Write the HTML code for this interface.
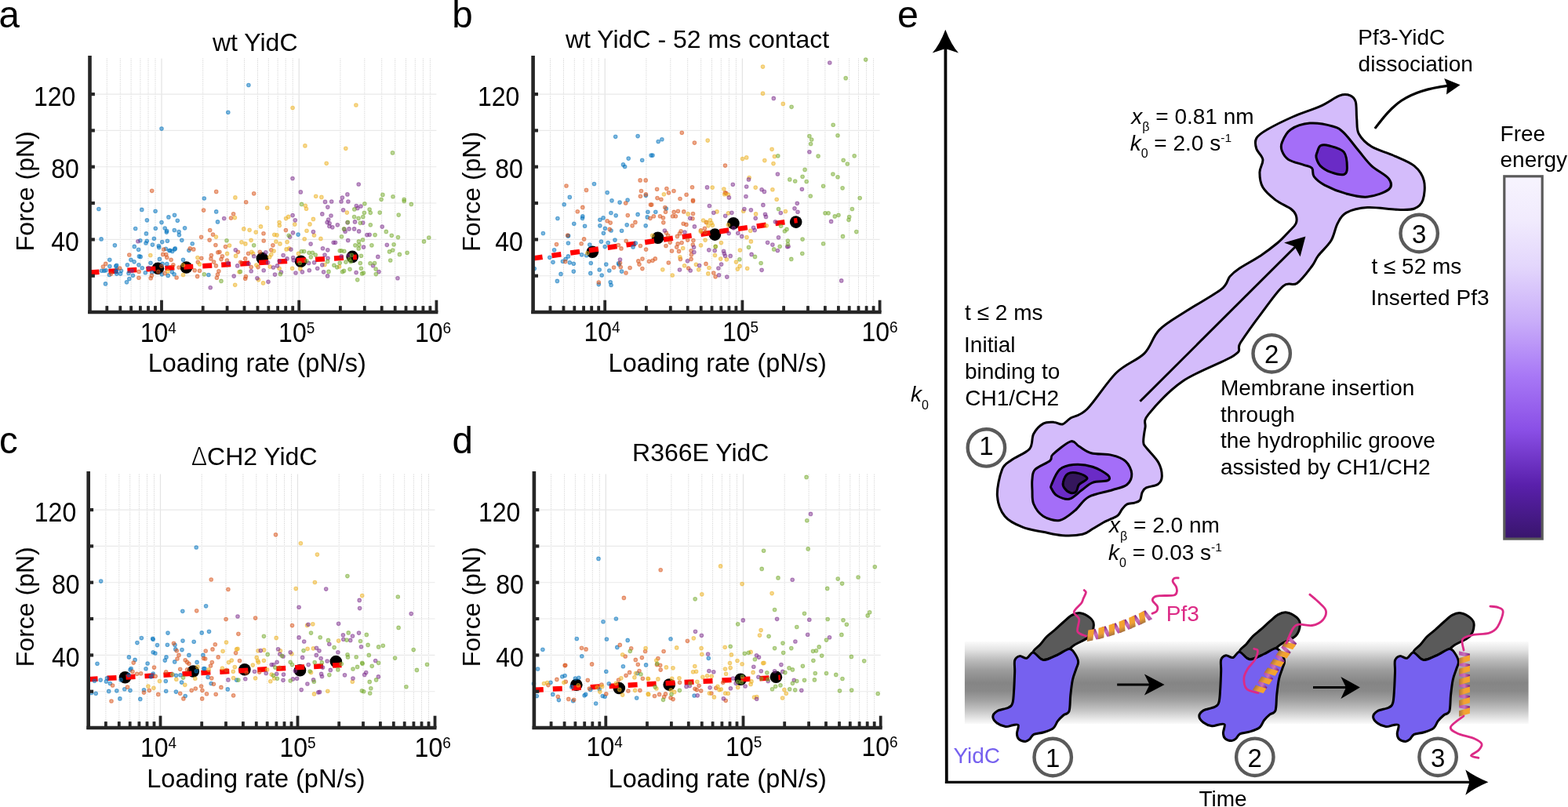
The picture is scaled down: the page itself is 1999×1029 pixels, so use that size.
<!DOCTYPE html>
<html><head><meta charset="utf-8"><style>html,body{margin:0;padding:0;background:#fff;overflow:hidden}svg{display:block}</style></head>
<body><svg width="1999" height="1029" viewBox="0 0 1999 1029">
<rect width="1999" height="1029" fill="#fff"/>
<line x1="136.3" y1="74.6" x2="136.3" y2="398.0" stroke="#cdcdcd" stroke-width="1" stroke-dasharray="1,1.4"/>
<line x1="153.3" y1="74.6" x2="153.3" y2="398.0" stroke="#cdcdcd" stroke-width="1" stroke-dasharray="1,1.4"/>
<line x1="167.1" y1="74.6" x2="167.1" y2="398.0" stroke="#cdcdcd" stroke-width="1" stroke-dasharray="1,1.4"/>
<line x1="178.9" y1="74.6" x2="178.9" y2="398.0" stroke="#cdcdcd" stroke-width="1" stroke-dasharray="1,1.4"/>
<line x1="189.0" y1="74.6" x2="189.0" y2="398.0" stroke="#cdcdcd" stroke-width="1" stroke-dasharray="1,1.4"/>
<line x1="198.0" y1="74.6" x2="198.0" y2="398.0" stroke="#cdcdcd" stroke-width="1" stroke-dasharray="1,1.4"/>
<line x1="206.0" y1="74.6" x2="206.0" y2="398.0" stroke="#e3e3e3" stroke-width="1.2"/>
<line x1="258.7" y1="74.6" x2="258.7" y2="398.0" stroke="#cdcdcd" stroke-width="1" stroke-dasharray="1,1.4"/>
<line x1="289.6" y1="74.6" x2="289.6" y2="398.0" stroke="#cdcdcd" stroke-width="1" stroke-dasharray="1,1.4"/>
<line x1="311.5" y1="74.6" x2="311.5" y2="398.0" stroke="#cdcdcd" stroke-width="1" stroke-dasharray="1,1.4"/>
<line x1="328.5" y1="74.6" x2="328.5" y2="398.0" stroke="#cdcdcd" stroke-width="1" stroke-dasharray="1,1.4"/>
<line x1="342.3" y1="74.6" x2="342.3" y2="398.0" stroke="#cdcdcd" stroke-width="1" stroke-dasharray="1,1.4"/>
<line x1="354.1" y1="74.6" x2="354.1" y2="398.0" stroke="#cdcdcd" stroke-width="1" stroke-dasharray="1,1.4"/>
<line x1="364.2" y1="74.6" x2="364.2" y2="398.0" stroke="#cdcdcd" stroke-width="1" stroke-dasharray="1,1.4"/>
<line x1="373.2" y1="74.6" x2="373.2" y2="398.0" stroke="#cdcdcd" stroke-width="1" stroke-dasharray="1,1.4"/>
<line x1="381.2" y1="74.6" x2="381.2" y2="398.0" stroke="#e3e3e3" stroke-width="1.2"/>
<line x1="433.9" y1="74.6" x2="433.9" y2="398.0" stroke="#cdcdcd" stroke-width="1" stroke-dasharray="1,1.4"/>
<line x1="464.8" y1="74.6" x2="464.8" y2="398.0" stroke="#cdcdcd" stroke-width="1" stroke-dasharray="1,1.4"/>
<line x1="486.7" y1="74.6" x2="486.7" y2="398.0" stroke="#cdcdcd" stroke-width="1" stroke-dasharray="1,1.4"/>
<line x1="503.7" y1="74.6" x2="503.7" y2="398.0" stroke="#cdcdcd" stroke-width="1" stroke-dasharray="1,1.4"/>
<line x1="517.5" y1="74.6" x2="517.5" y2="398.0" stroke="#cdcdcd" stroke-width="1" stroke-dasharray="1,1.4"/>
<line x1="529.3" y1="74.6" x2="529.3" y2="398.0" stroke="#cdcdcd" stroke-width="1" stroke-dasharray="1,1.4"/>
<line x1="539.4" y1="74.6" x2="539.4" y2="398.0" stroke="#cdcdcd" stroke-width="1" stroke-dasharray="1,1.4"/>
<line x1="548.4" y1="74.6" x2="548.4" y2="398.0" stroke="#cdcdcd" stroke-width="1" stroke-dasharray="1,1.4"/>
<line x1="114.5" y1="351.7" x2="556.4" y2="351.7" stroke="#e9e9e9" stroke-width="1.1"/>
<line x1="114.5" y1="305.4" x2="556.4" y2="305.4" stroke="#e9e9e9" stroke-width="1.1"/>
<line x1="114.5" y1="259.0" x2="556.4" y2="259.0" stroke="#e9e9e9" stroke-width="1.1"/>
<line x1="114.5" y1="212.7" x2="556.4" y2="212.7" stroke="#e9e9e9" stroke-width="1.1"/>
<line x1="114.5" y1="166.4" x2="556.4" y2="166.4" stroke="#e9e9e9" stroke-width="1.1"/>
<line x1="114.5" y1="120.1" x2="556.4" y2="120.1" stroke="#e9e9e9" stroke-width="1.1"/>
<circle cx="201.4" cy="342.2" r="7.8" fill="#000"/><circle cx="237.5" cy="341.0" r="7.8" fill="#000"/><circle cx="334.4" cy="329.4" r="7.8" fill="#000"/><circle cx="383.5" cy="333.2" r="7.8" fill="#000"/><circle cx="449.2" cy="327.4" r="7.8" fill="#000"/>
<line x1="114.5" y1="347.5" x2="454.8" y2="327.8" stroke="#ff0000" stroke-width="6.5" stroke-dasharray="12,12"/>
<g fill="#0072BD" fill-opacity="0.5" stroke="#0072BD" stroke-opacity="0.55" stroke-width="1.05"><circle cx="125.9" cy="266.5" r="2.3"/><circle cx="180.8" cy="267.4" r="2.3"/><circle cx="198.1" cy="269.2" r="2.3"/><circle cx="214.9" cy="276.9" r="2.3"/><circle cx="222.5" cy="274.3" r="2.3"/><circle cx="226.3" cy="281.3" r="2.3"/><circle cx="187.4" cy="280.8" r="2.3"/><circle cx="206.0" cy="283.6" r="2.3"/><circle cx="172.7" cy="291.5" r="2.3"/><circle cx="198.3" cy="291.2" r="2.3"/><circle cx="210.2" cy="291.0" r="2.3"/><circle cx="212.7" cy="294.5" r="2.3"/><circle cx="212.3" cy="296.1" r="2.3"/><circle cx="222.3" cy="293.5" r="2.3"/><circle cx="228.1" cy="295.6" r="2.3"/><circle cx="228.4" cy="299.6" r="2.3"/><circle cx="235.6" cy="290.8" r="2.3"/><circle cx="186.4" cy="297.9" r="2.3"/><circle cx="129.1" cy="304.9" r="2.3"/><circle cx="178.8" cy="306.7" r="2.3"/><circle cx="187.3" cy="307.2" r="2.3"/><circle cx="186.0" cy="310.0" r="2.3"/><circle cx="196.4" cy="304.2" r="2.3"/><circle cx="206.7" cy="308.6" r="2.3"/><circle cx="213.4" cy="307.2" r="2.3"/><circle cx="231.8" cy="306.3" r="2.3"/><circle cx="245.2" cy="310.7" r="2.3"/><circle cx="146.4" cy="312.8" r="2.3"/><circle cx="194.4" cy="312.1" r="2.3"/><circle cx="202.3" cy="313.5" r="2.3"/><circle cx="202.7" cy="315.6" r="2.3"/><circle cx="171.3" cy="314.4" r="2.3"/><circle cx="176.6" cy="318.3" r="2.3"/><circle cx="211.4" cy="317.2" r="2.3"/><circle cx="215.8" cy="319.5" r="2.3"/><circle cx="219.7" cy="320.4" r="2.3"/><circle cx="217.0" cy="319.3" r="2.3"/><circle cx="223.3" cy="316.9" r="2.3"/><circle cx="222.6" cy="317.9" r="2.3"/><circle cx="240.9" cy="319.3" r="2.3"/><circle cx="177.4" cy="326.9" r="2.3"/><circle cx="179.2" cy="327.4" r="2.3"/><circle cx="203.4" cy="330.4" r="2.3"/><circle cx="139.8" cy="331.3" r="2.3"/><circle cx="166.9" cy="331.3" r="2.3"/><circle cx="171.1" cy="333.8" r="2.3"/><circle cx="233.5" cy="331.3" r="2.3"/><circle cx="162.4" cy="337.8" r="2.3"/><circle cx="176.9" cy="337.8" r="2.3"/><circle cx="192.0" cy="335.2" r="2.3"/><circle cx="139.9" cy="339.6" r="2.3"/><circle cx="147.7" cy="339.2" r="2.3"/><circle cx="148.7" cy="338.2" r="2.3"/><circle cx="181.3" cy="341.7" r="2.3"/><circle cx="207.1" cy="336.4" r="2.3"/><circle cx="212.8" cy="336.6" r="2.3"/><circle cx="129.6" cy="345.2" r="2.3"/><circle cx="132.8" cy="345.2" r="2.3"/><circle cx="135.0" cy="344.7" r="2.3"/><circle cx="149.1" cy="343.1" r="2.3"/><circle cx="148.0" cy="346.1" r="2.3"/><circle cx="154.5" cy="345.2" r="2.3"/><circle cx="164.0" cy="348.4" r="2.3"/><circle cx="169.4" cy="351.2" r="2.3"/><circle cx="139.4" cy="350.5" r="2.3"/><circle cx="148.7" cy="349.1" r="2.3"/><circle cx="153.6" cy="349.1" r="2.3"/><circle cx="185.3" cy="347.7" r="2.3"/><circle cx="193.7" cy="347.3" r="2.3"/><circle cx="206.4" cy="349.8" r="2.3"/><circle cx="214.2" cy="351.4" r="2.3"/><circle cx="219.3" cy="346.8" r="2.3"/><circle cx="222.1" cy="349.8" r="2.3"/><circle cx="164.8" cy="355.6" r="2.3"/><circle cx="161.5" cy="359.8" r="2.3"/><circle cx="134.5" cy="361.9" r="2.3"/><circle cx="260.3" cy="253.0" r="2.3"/><circle cx="275.7" cy="269.9" r="2.3"/><circle cx="277.5" cy="282.9" r="2.3"/><circle cx="380.1" cy="299.1" r="2.3"/><circle cx="265.9" cy="350.5" r="2.3"/><circle cx="206.0" cy="164.1" r="2.3"/><circle cx="290.8" cy="143.2" r="2.3"/><circle cx="316.9" cy="108.5" r="2.3"/></g>
<g fill="#D95319" fill-opacity="0.5" stroke="#D95319" stroke-opacity="0.55" stroke-width="1.05"><circle cx="193.7" cy="243.3" r="2.3"/><circle cx="259.6" cy="268.1" r="2.3"/><circle cx="256.6" cy="302.3" r="2.3"/><circle cx="164.8" cy="325.0" r="2.3"/><circle cx="208.8" cy="318.1" r="2.3"/><circle cx="207.8" cy="324.4" r="2.3"/><circle cx="211.8" cy="324.6" r="2.3"/><circle cx="212.8" cy="328.3" r="2.3"/><circle cx="218.1" cy="331.3" r="2.3"/><circle cx="242.3" cy="316.9" r="2.3"/><circle cx="246.8" cy="317.9" r="2.3"/><circle cx="134.7" cy="336.4" r="2.3"/><circle cx="131.4" cy="340.1" r="2.3"/><circle cx="152.7" cy="342.0" r="2.3"/><circle cx="141.7" cy="349.1" r="2.3"/><circle cx="177.1" cy="346.4" r="2.3"/><circle cx="176.9" cy="354.2" r="2.3"/><circle cx="192.2" cy="354.7" r="2.3"/><circle cx="193.4" cy="351.4" r="2.3"/><circle cx="210.2" cy="348.4" r="2.3"/><circle cx="220.9" cy="337.8" r="2.3"/><circle cx="225.1" cy="354.0" r="2.3"/><circle cx="228.1" cy="341.0" r="2.3"/><circle cx="248.2" cy="344.7" r="2.3"/><circle cx="254.5" cy="345.2" r="2.3"/><circle cx="251.6" cy="352.4" r="2.3"/><circle cx="252.3" cy="334.3" r="2.3"/><circle cx="256.8" cy="329.2" r="2.3"/><circle cx="205.8" cy="339.2" r="2.3"/><circle cx="201.8" cy="346.4" r="2.3"/><circle cx="275.7" cy="244.4" r="2.3"/><circle cx="323.7" cy="246.8" r="2.3"/><circle cx="313.7" cy="257.7" r="2.3"/><circle cx="297.6" cy="272.7" r="2.3"/><circle cx="294.5" cy="278.0" r="2.3"/><circle cx="267.7" cy="293.5" r="2.3"/><circle cx="271.5" cy="299.1" r="2.3"/><circle cx="267.1" cy="306.1" r="2.3"/><circle cx="274.9" cy="312.5" r="2.3"/><circle cx="287.5" cy="314.6" r="2.3"/><circle cx="277.8" cy="321.8" r="2.3"/><circle cx="279.9" cy="321.3" r="2.3"/><circle cx="283.4" cy="326.7" r="2.3"/><circle cx="269.4" cy="325.5" r="2.3"/><circle cx="268.9" cy="329.9" r="2.3"/><circle cx="272.6" cy="334.1" r="2.3"/><circle cx="275.4" cy="338.9" r="2.3"/><circle cx="282.0" cy="330.6" r="2.3"/><circle cx="289.4" cy="332.0" r="2.3"/><circle cx="278.9" cy="345.7" r="2.3"/><circle cx="277.5" cy="350.1" r="2.3"/><circle cx="276.4" cy="354.2" r="2.3"/><circle cx="303.4" cy="321.3" r="2.3"/><circle cx="316.6" cy="323.2" r="2.3"/><circle cx="312.7" cy="329.9" r="2.3"/><circle cx="306.7" cy="334.3" r="2.3"/><circle cx="320.2" cy="340.6" r="2.3"/><circle cx="313.4" cy="352.6" r="2.3"/><circle cx="312.7" cy="355.2" r="2.3"/><circle cx="336.0" cy="297.7" r="2.3"/><circle cx="336.2" cy="307.0" r="2.3"/><circle cx="347.9" cy="312.8" r="2.3"/><circle cx="345.8" cy="318.8" r="2.3"/><circle cx="331.3" cy="321.3" r="2.3"/><circle cx="364.4" cy="293.5" r="2.3"/><circle cx="329.0" cy="340.6" r="2.3"/></g>
<g fill="#EDB120" fill-opacity="0.5" stroke="#EDB120" stroke-opacity="0.55" stroke-width="1.05"><circle cx="191.8" cy="325.5" r="2.3"/><circle cx="251.9" cy="328.5" r="2.3"/><circle cx="254.5" cy="336.9" r="2.3"/><circle cx="213.9" cy="345.9" r="2.3"/><circle cx="233.5" cy="350.5" r="2.3"/><circle cx="233.5" cy="338.0" r="2.3"/><circle cx="388.9" cy="185.9" r="2.3"/><circle cx="299.9" cy="251.9" r="2.3"/><circle cx="402.7" cy="250.2" r="2.3"/><circle cx="340.7" cy="265.1" r="2.3"/><circle cx="389.3" cy="262.3" r="2.3"/><circle cx="390.5" cy="266.2" r="2.3"/><circle cx="299.4" cy="277.6" r="2.3"/><circle cx="275.4" cy="302.1" r="2.3"/><circle cx="292.5" cy="313.0" r="2.3"/><circle cx="289.6" cy="323.4" r="2.3"/><circle cx="300.6" cy="326.4" r="2.3"/><circle cx="310.8" cy="291.9" r="2.3"/><circle cx="318.1" cy="293.3" r="2.3"/><circle cx="326.2" cy="296.1" r="2.3"/><circle cx="332.5" cy="288.9" r="2.3"/><circle cx="356.1" cy="283.6" r="2.3"/><circle cx="356.3" cy="287.5" r="2.3"/><circle cx="364.6" cy="278.5" r="2.3"/><circle cx="367.7" cy="276.4" r="2.3"/><circle cx="375.8" cy="286.1" r="2.3"/><circle cx="395.0" cy="285.9" r="2.3"/><circle cx="399.4" cy="279.4" r="2.3"/><circle cx="391.0" cy="294.2" r="2.3"/><circle cx="400.5" cy="300.0" r="2.3"/><circle cx="388.2" cy="304.7" r="2.3"/><circle cx="308.0" cy="308.8" r="2.3"/><circle cx="312.9" cy="310.9" r="2.3"/><circle cx="320.1" cy="306.3" r="2.3"/><circle cx="351.9" cy="308.1" r="2.3"/><circle cx="357.0" cy="310.9" r="2.3"/><circle cx="366.1" cy="308.6" r="2.3"/><circle cx="349.8" cy="299.3" r="2.3"/><circle cx="353.0" cy="299.8" r="2.3"/><circle cx="349.1" cy="320.0" r="2.3"/><circle cx="345.8" cy="324.6" r="2.3"/><circle cx="343.7" cy="327.8" r="2.3"/><circle cx="365.1" cy="317.9" r="2.3"/><circle cx="368.6" cy="316.9" r="2.3"/><circle cx="320.8" cy="321.3" r="2.3"/><circle cx="322.7" cy="323.4" r="2.3"/><circle cx="326.9" cy="338.0" r="2.3"/><circle cx="344.2" cy="340.1" r="2.3"/><circle cx="356.1" cy="342.2" r="2.3"/><circle cx="372.6" cy="342.2" r="2.3"/><circle cx="382.8" cy="342.9" r="2.3"/><circle cx="380.5" cy="323.4" r="2.3"/><circle cx="305.0" cy="346.8" r="2.3"/><circle cx="299.7" cy="363.3" r="2.3"/><circle cx="329.5" cy="356.8" r="2.3"/><circle cx="335.5" cy="360.9" r="2.3"/><circle cx="440.8" cy="189.3" r="2.3"/><circle cx="416.2" cy="208.3" r="2.3"/><circle cx="409.9" cy="251.4" r="2.3"/><circle cx="442.3" cy="271.1" r="2.3"/><circle cx="408.9" cy="304.4" r="2.3"/><circle cx="414.0" cy="337.6" r="2.3"/><circle cx="432.5" cy="339.9" r="2.3"/><circle cx="373.1" cy="137.5" r="2.3"/><circle cx="453.9" cy="134.0" r="2.3"/></g>
<g fill="#7E2F8E" fill-opacity="0.5" stroke="#7E2F8E" stroke-opacity="0.55" stroke-width="1.05"><circle cx="175.9" cy="307.7" r="2.3"/><circle cx="168.2" cy="345.2" r="2.3"/><circle cx="189.5" cy="341.5" r="2.3"/><circle cx="373.0" cy="227.5" r="2.3"/><circle cx="383.3" cy="244.9" r="2.3"/><circle cx="285.7" cy="278.5" r="2.3"/><circle cx="373.1" cy="274.6" r="2.3"/><circle cx="376.3" cy="280.8" r="2.3"/><circle cx="373.5" cy="296.8" r="2.3"/><circle cx="369.6" cy="302.1" r="2.3"/><circle cx="399.4" cy="295.6" r="2.3"/><circle cx="396.1" cy="311.1" r="2.3"/><circle cx="370.9" cy="318.1" r="2.3"/><circle cx="300.3" cy="318.8" r="2.3"/><circle cx="323.7" cy="326.7" r="2.3"/><circle cx="338.8" cy="321.8" r="2.3"/><circle cx="361.1" cy="325.5" r="2.3"/><circle cx="366.0" cy="329.9" r="2.3"/><circle cx="373.7" cy="328.5" r="2.3"/><circle cx="374.2" cy="331.8" r="2.3"/><circle cx="291.0" cy="335.5" r="2.3"/><circle cx="302.7" cy="338.9" r="2.3"/><circle cx="317.1" cy="336.2" r="2.3"/><circle cx="320.2" cy="345.7" r="2.3"/><circle cx="336.2" cy="344.7" r="2.3"/><circle cx="341.6" cy="334.8" r="2.3"/><circle cx="348.4" cy="341.0" r="2.3"/><circle cx="353.5" cy="338.9" r="2.3"/><circle cx="358.4" cy="347.0" r="2.3"/><circle cx="350.5" cy="350.1" r="2.3"/><circle cx="377.0" cy="348.0" r="2.3"/><circle cx="385.4" cy="346.8" r="2.3"/><circle cx="394.3" cy="344.7" r="2.3"/><circle cx="404.7" cy="342.2" r="2.3"/><circle cx="400.6" cy="334.8" r="2.3"/><circle cx="393.6" cy="335.5" r="2.3"/><circle cx="298.2" cy="352.1" r="2.3"/><circle cx="327.9" cy="354.7" r="2.3"/><circle cx="342.0" cy="359.3" r="2.3"/><circle cx="268.2" cy="366.7" r="2.3"/><circle cx="356.1" cy="332.7" r="2.3"/><circle cx="457.2" cy="235.0" r="2.3"/><circle cx="442.9" cy="247.9" r="2.3"/><circle cx="436.4" cy="252.1" r="2.3"/><circle cx="414.5" cy="257.4" r="2.3"/><circle cx="422.7" cy="257.0" r="2.3"/><circle cx="435.0" cy="257.0" r="2.3"/><circle cx="443.9" cy="257.0" r="2.3"/><circle cx="417.8" cy="264.1" r="2.3"/><circle cx="454.3" cy="262.5" r="2.3"/><circle cx="460.0" cy="263.0" r="2.3"/><circle cx="455.8" cy="265.5" r="2.3"/><circle cx="437.6" cy="267.8" r="2.3"/><circle cx="410.8" cy="272.9" r="2.3"/><circle cx="422.0" cy="275.0" r="2.3"/><circle cx="418.7" cy="280.1" r="2.3"/><circle cx="417.1" cy="283.6" r="2.3"/><circle cx="420.1" cy="284.7" r="2.3"/><circle cx="419.9" cy="288.5" r="2.3"/><circle cx="423.8" cy="289.8" r="2.3"/><circle cx="430.3" cy="286.8" r="2.3"/><circle cx="443.0" cy="283.8" r="2.3"/><circle cx="452.5" cy="282.9" r="2.3"/><circle cx="462.7" cy="284.1" r="2.3"/><circle cx="439.0" cy="292.4" r="2.3"/><circle cx="440.1" cy="295.2" r="2.3"/><circle cx="445.0" cy="291.9" r="2.3"/><circle cx="451.6" cy="291.9" r="2.3"/><circle cx="457.6" cy="294.9" r="2.3"/><circle cx="467.9" cy="299.6" r="2.3"/><circle cx="471.1" cy="299.3" r="2.3"/><circle cx="487.2" cy="289.1" r="2.3"/><circle cx="443.7" cy="306.5" r="2.3"/><circle cx="425.2" cy="309.3" r="2.3"/><circle cx="427.5" cy="309.3" r="2.3"/><circle cx="411.5" cy="316.7" r="2.3"/><circle cx="417.8" cy="318.8" r="2.3"/><circle cx="463.5" cy="315.1" r="2.3"/><circle cx="493.3" cy="312.3" r="2.3"/><circle cx="414.0" cy="325.0" r="2.3"/><circle cx="418.0" cy="329.2" r="2.3"/><circle cx="435.2" cy="326.9" r="2.3"/><circle cx="444.8" cy="325.7" r="2.3"/><circle cx="481.8" cy="327.4" r="2.3"/><circle cx="410.8" cy="337.8" r="2.3"/><circle cx="412.6" cy="346.8" r="2.3"/><circle cx="417.6" cy="351.9" r="2.3"/><circle cx="454.1" cy="347.5" r="2.3"/><circle cx="475.6" cy="338.7" r="2.3"/><circle cx="483.0" cy="346.6" r="2.3"/><circle cx="507.0" cy="354.7" r="2.3"/></g>
<g fill="#77AC30" fill-opacity="0.5" stroke="#77AC30" stroke-opacity="0.55" stroke-width="1.05"><circle cx="260.3" cy="349.8" r="2.3"/><circle cx="289.0" cy="306.7" r="2.3"/><circle cx="323.7" cy="312.8" r="2.3"/><circle cx="384.5" cy="260.4" r="2.3"/><circle cx="368.2" cy="300.3" r="2.3"/><circle cx="384.4" cy="320.6" r="2.3"/><circle cx="387.7" cy="320.6" r="2.3"/><circle cx="394.0" cy="322.3" r="2.3"/><circle cx="398.4" cy="322.3" r="2.3"/><circle cx="402.2" cy="325.0" r="2.3"/><circle cx="396.3" cy="327.8" r="2.3"/><circle cx="306.4" cy="346.4" r="2.3"/><circle cx="282.0" cy="358.4" r="2.3"/><circle cx="357.4" cy="349.6" r="2.3"/><circle cx="382.3" cy="335.5" r="2.3"/><circle cx="390.8" cy="332.7" r="2.3"/><circle cx="500.5" cy="194.9" r="2.3"/><circle cx="487.9" cy="248.4" r="2.3"/><circle cx="501.0" cy="250.7" r="2.3"/><circle cx="486.1" cy="254.2" r="2.3"/><circle cx="515.2" cy="254.4" r="2.3"/><circle cx="515.2" cy="256.5" r="2.3"/><circle cx="524.3" cy="260.4" r="2.3"/><circle cx="464.9" cy="259.7" r="2.3"/><circle cx="451.8" cy="266.9" r="2.3"/><circle cx="471.1" cy="267.1" r="2.3"/><circle cx="464.4" cy="271.3" r="2.3"/><circle cx="472.3" cy="271.3" r="2.3"/><circle cx="484.2" cy="271.1" r="2.3"/><circle cx="508.2" cy="274.1" r="2.3"/><circle cx="451.6" cy="276.6" r="2.3"/><circle cx="457.1" cy="278.3" r="2.3"/><circle cx="462.8" cy="276.6" r="2.3"/><circle cx="459.3" cy="284.3" r="2.3"/><circle cx="443.4" cy="283.4" r="2.3"/><circle cx="472.3" cy="286.8" r="2.3"/><circle cx="438.5" cy="291.9" r="2.3"/><circle cx="435.5" cy="301.7" r="2.3"/><circle cx="478.1" cy="299.6" r="2.3"/><circle cx="492.3" cy="295.4" r="2.3"/><circle cx="499.3" cy="300.3" r="2.3"/><circle cx="507.5" cy="302.6" r="2.3"/><circle cx="546.8" cy="303.0" r="2.3"/><circle cx="540.5" cy="307.9" r="2.3"/><circle cx="457.4" cy="307.9" r="2.3"/><circle cx="462.5" cy="305.8" r="2.3"/><circle cx="452.9" cy="312.8" r="2.3"/><circle cx="457.9" cy="312.3" r="2.3"/><circle cx="457.2" cy="316.9" r="2.3"/><circle cx="473.9" cy="312.8" r="2.3"/><circle cx="502.1" cy="311.8" r="2.3"/><circle cx="496.5" cy="320.9" r="2.3"/><circle cx="500.7" cy="319.0" r="2.3"/><circle cx="509.4" cy="324.4" r="2.3"/><circle cx="519.1" cy="322.3" r="2.3"/><circle cx="433.2" cy="319.7" r="2.3"/><circle cx="435.3" cy="319.7" r="2.3"/><circle cx="438.8" cy="320.2" r="2.3"/><circle cx="448.3" cy="325.3" r="2.3"/><circle cx="460.4" cy="326.2" r="2.3"/><circle cx="445.3" cy="330.6" r="2.3"/><circle cx="447.1" cy="333.6" r="2.3"/><circle cx="440.9" cy="334.1" r="2.3"/><circle cx="433.2" cy="335.2" r="2.3"/><circle cx="417.6" cy="333.4" r="2.3"/><circle cx="425.9" cy="338.2" r="2.3"/><circle cx="429.7" cy="340.8" r="2.3"/><circle cx="436.6" cy="346.6" r="2.3"/><circle cx="438.5" cy="345.4" r="2.3"/><circle cx="446.0" cy="343.3" r="2.3"/><circle cx="459.3" cy="335.5" r="2.3"/><circle cx="460.4" cy="342.2" r="2.3"/><circle cx="472.0" cy="335.7" r="2.3"/><circle cx="477.6" cy="335.5" r="2.3"/><circle cx="479.1" cy="343.1" r="2.3"/><circle cx="479.3" cy="349.6" r="2.3"/><circle cx="463.4" cy="348.0" r="2.3"/><circle cx="461.6" cy="348.9" r="2.3"/><circle cx="455.7" cy="356.8" r="2.3"/><circle cx="419.0" cy="346.4" r="2.3"/><circle cx="497.7" cy="332.0" r="2.3"/></g>
<line x1="114.5" y1="71.1" x2="114.5" y2="400.1" stroke="#262626" stroke-width="4.6"/>
<line x1="112.2" y1="398.0" x2="558.4" y2="398.0" stroke="#262626" stroke-width="4.3"/>
<line x1="114.5" y1="351.7" x2="120.9" y2="351.7" stroke="#262626" stroke-width="4.2"/>
<line x1="114.5" y1="305.4" x2="120.9" y2="305.4" stroke="#262626" stroke-width="4.2"/>
<line x1="114.5" y1="259.0" x2="120.9" y2="259.0" stroke="#262626" stroke-width="4.2"/>
<line x1="114.5" y1="212.7" x2="120.9" y2="212.7" stroke="#262626" stroke-width="4.2"/>
<line x1="114.5" y1="166.4" x2="120.9" y2="166.4" stroke="#262626" stroke-width="4.2"/>
<line x1="114.5" y1="120.1" x2="120.9" y2="120.1" stroke="#262626" stroke-width="4.2"/>
<line x1="136.3" y1="398.0" x2="136.3" y2="390.1" stroke="#262626" stroke-width="3.8"/>
<line x1="153.3" y1="398.0" x2="153.3" y2="390.1" stroke="#262626" stroke-width="3.8"/>
<line x1="167.1" y1="398.0" x2="167.1" y2="390.1" stroke="#262626" stroke-width="3.8"/>
<line x1="178.9" y1="398.0" x2="178.9" y2="390.1" stroke="#262626" stroke-width="3.8"/>
<line x1="189.0" y1="398.0" x2="189.0" y2="390.1" stroke="#262626" stroke-width="3.8"/>
<line x1="198.0" y1="398.0" x2="198.0" y2="390.1" stroke="#262626" stroke-width="3.8"/>
<line x1="206.0" y1="398.0" x2="206.0" y2="382.7" stroke="#262626" stroke-width="3.8"/>
<line x1="258.7" y1="398.0" x2="258.7" y2="390.1" stroke="#262626" stroke-width="3.8"/>
<line x1="289.6" y1="398.0" x2="289.6" y2="390.1" stroke="#262626" stroke-width="3.8"/>
<line x1="311.5" y1="398.0" x2="311.5" y2="390.1" stroke="#262626" stroke-width="3.8"/>
<line x1="328.5" y1="398.0" x2="328.5" y2="390.1" stroke="#262626" stroke-width="3.8"/>
<line x1="342.3" y1="398.0" x2="342.3" y2="390.1" stroke="#262626" stroke-width="3.8"/>
<line x1="354.1" y1="398.0" x2="354.1" y2="390.1" stroke="#262626" stroke-width="3.8"/>
<line x1="364.2" y1="398.0" x2="364.2" y2="390.1" stroke="#262626" stroke-width="3.8"/>
<line x1="373.2" y1="398.0" x2="373.2" y2="390.1" stroke="#262626" stroke-width="3.8"/>
<line x1="381.2" y1="398.0" x2="381.2" y2="382.7" stroke="#262626" stroke-width="3.8"/>
<line x1="433.9" y1="398.0" x2="433.9" y2="390.1" stroke="#262626" stroke-width="3.8"/>
<line x1="464.8" y1="398.0" x2="464.8" y2="390.1" stroke="#262626" stroke-width="3.8"/>
<line x1="486.7" y1="398.0" x2="486.7" y2="390.1" stroke="#262626" stroke-width="3.8"/>
<line x1="503.7" y1="398.0" x2="503.7" y2="390.1" stroke="#262626" stroke-width="3.8"/>
<line x1="517.5" y1="398.0" x2="517.5" y2="390.1" stroke="#262626" stroke-width="3.8"/>
<line x1="529.3" y1="398.0" x2="529.3" y2="390.1" stroke="#262626" stroke-width="3.8"/>
<line x1="539.4" y1="398.0" x2="539.4" y2="390.1" stroke="#262626" stroke-width="3.8"/>
<line x1="548.4" y1="398.0" x2="548.4" y2="390.1" stroke="#262626" stroke-width="3.8"/>
<line x1="556.4" y1="398.0" x2="556.4" y2="382.7" stroke="#262626" stroke-width="3.8"/>
<g font-family="'Liberation Sans', sans-serif" fill="#000">
<text transform="translate(178.7,435.7) scale(1,1.075)" font-size="32">10<tspan font-size="19" dy="-10">4</tspan></text>
<text transform="translate(355.1,435.7) scale(1,1.075)" font-size="32">10<tspan font-size="19" dy="-10">5</tspan></text>
<text transform="translate(529.0,435.7) scale(1,1.075)" font-size="32">10<tspan font-size="19" dy="-10">6</tspan></text>
<text transform="translate(96.4,134.6) scale(1,1.075)" font-size="32" text-anchor="end">120</text>
<text transform="translate(100.8,227.2) scale(1,1.075)" font-size="32" text-anchor="end">80</text>
<text transform="translate(100.8,319.9) scale(1,1.075)" font-size="32" text-anchor="end">40</text>
<text x="188.7" y="474.2" font-size="32.5">Loading rate (pN/s)</text>
<text x="271.0" y="65.0" font-size="32">wt YidC</text>
<text x="-1.6" y="34.5" font-size="47.5">a</text>
</g>
<text font-family="'Liberation Sans', sans-serif" font-size="32" transform="translate(43.4,320.2) rotate(-90)">Force (pN)</text>
<line x1="701.5" y1="74.6" x2="701.5" y2="398.0" stroke="#cdcdcd" stroke-width="1" stroke-dasharray="1,1.4"/>
<line x1="718.5" y1="74.6" x2="718.5" y2="398.0" stroke="#cdcdcd" stroke-width="1" stroke-dasharray="1,1.4"/>
<line x1="732.3" y1="74.6" x2="732.3" y2="398.0" stroke="#cdcdcd" stroke-width="1" stroke-dasharray="1,1.4"/>
<line x1="744.1" y1="74.6" x2="744.1" y2="398.0" stroke="#cdcdcd" stroke-width="1" stroke-dasharray="1,1.4"/>
<line x1="754.2" y1="74.6" x2="754.2" y2="398.0" stroke="#cdcdcd" stroke-width="1" stroke-dasharray="1,1.4"/>
<line x1="763.2" y1="74.6" x2="763.2" y2="398.0" stroke="#cdcdcd" stroke-width="1" stroke-dasharray="1,1.4"/>
<line x1="771.2" y1="74.6" x2="771.2" y2="398.0" stroke="#e3e3e3" stroke-width="1.2"/>
<line x1="823.9" y1="74.6" x2="823.9" y2="398.0" stroke="#cdcdcd" stroke-width="1" stroke-dasharray="1,1.4"/>
<line x1="854.8" y1="74.6" x2="854.8" y2="398.0" stroke="#cdcdcd" stroke-width="1" stroke-dasharray="1,1.4"/>
<line x1="876.7" y1="74.6" x2="876.7" y2="398.0" stroke="#cdcdcd" stroke-width="1" stroke-dasharray="1,1.4"/>
<line x1="893.7" y1="74.6" x2="893.7" y2="398.0" stroke="#cdcdcd" stroke-width="1" stroke-dasharray="1,1.4"/>
<line x1="907.5" y1="74.6" x2="907.5" y2="398.0" stroke="#cdcdcd" stroke-width="1" stroke-dasharray="1,1.4"/>
<line x1="919.3" y1="74.6" x2="919.3" y2="398.0" stroke="#cdcdcd" stroke-width="1" stroke-dasharray="1,1.4"/>
<line x1="929.4" y1="74.6" x2="929.4" y2="398.0" stroke="#cdcdcd" stroke-width="1" stroke-dasharray="1,1.4"/>
<line x1="938.4" y1="74.6" x2="938.4" y2="398.0" stroke="#cdcdcd" stroke-width="1" stroke-dasharray="1,1.4"/>
<line x1="946.4" y1="74.6" x2="946.4" y2="398.0" stroke="#e3e3e3" stroke-width="1.2"/>
<line x1="999.1" y1="74.6" x2="999.1" y2="398.0" stroke="#cdcdcd" stroke-width="1" stroke-dasharray="1,1.4"/>
<line x1="1030.0" y1="74.6" x2="1030.0" y2="398.0" stroke="#cdcdcd" stroke-width="1" stroke-dasharray="1,1.4"/>
<line x1="1051.9" y1="74.6" x2="1051.9" y2="398.0" stroke="#cdcdcd" stroke-width="1" stroke-dasharray="1,1.4"/>
<line x1="1068.9" y1="74.6" x2="1068.9" y2="398.0" stroke="#cdcdcd" stroke-width="1" stroke-dasharray="1,1.4"/>
<line x1="1082.7" y1="74.6" x2="1082.7" y2="398.0" stroke="#cdcdcd" stroke-width="1" stroke-dasharray="1,1.4"/>
<line x1="1094.5" y1="74.6" x2="1094.5" y2="398.0" stroke="#cdcdcd" stroke-width="1" stroke-dasharray="1,1.4"/>
<line x1="1104.6" y1="74.6" x2="1104.6" y2="398.0" stroke="#cdcdcd" stroke-width="1" stroke-dasharray="1,1.4"/>
<line x1="1113.6" y1="74.6" x2="1113.6" y2="398.0" stroke="#cdcdcd" stroke-width="1" stroke-dasharray="1,1.4"/>
<line x1="679.6" y1="351.7" x2="1121.6" y2="351.7" stroke="#e9e9e9" stroke-width="1.1"/>
<line x1="679.6" y1="305.4" x2="1121.6" y2="305.4" stroke="#e9e9e9" stroke-width="1.1"/>
<line x1="679.6" y1="259.0" x2="1121.6" y2="259.0" stroke="#e9e9e9" stroke-width="1.1"/>
<line x1="679.6" y1="212.7" x2="1121.6" y2="212.7" stroke="#e9e9e9" stroke-width="1.1"/>
<line x1="679.6" y1="166.4" x2="1121.6" y2="166.4" stroke="#e9e9e9" stroke-width="1.1"/>
<line x1="679.6" y1="120.1" x2="1121.6" y2="120.1" stroke="#e9e9e9" stroke-width="1.1"/>
<circle cx="755.3" cy="321.3" r="7.8" fill="#000"/><circle cx="838.7" cy="303.3" r="7.8" fill="#000"/><circle cx="911.4" cy="299.1" r="7.8" fill="#000"/><circle cx="935.0" cy="284.7" r="7.8" fill="#000"/><circle cx="1014.7" cy="283.1" r="7.8" fill="#000"/>
<line x1="679.7" y1="329.4" x2="1016.5" y2="281.0" stroke="#ff0000" stroke-width="6.5" stroke-dasharray="12,12"/>
<g fill="#0072BD" fill-opacity="0.5" stroke="#0072BD" stroke-opacity="0.55" stroke-width="1.05"><circle cx="784.7" cy="174.3" r="2.3"/><circle cx="813.1" cy="173.6" r="2.3"/><circle cx="801.2" cy="202.1" r="2.3"/><circle cx="818.7" cy="204.2" r="2.3"/><circle cx="794.5" cy="209.9" r="2.3"/><circle cx="796.6" cy="212.5" r="2.3"/><circle cx="830.1" cy="198.1" r="2.3"/><circle cx="757.5" cy="234.5" r="2.3"/><circle cx="774.2" cy="245.6" r="2.3"/><circle cx="726.3" cy="251.4" r="2.3"/><circle cx="780.0" cy="255.8" r="2.3"/><circle cx="790.1" cy="258.1" r="2.3"/><circle cx="800.1" cy="255.1" r="2.3"/><circle cx="719.2" cy="260.7" r="2.3"/><circle cx="823.4" cy="249.3" r="2.3"/><circle cx="778.9" cy="271.5" r="2.3"/><circle cx="785.2" cy="274.8" r="2.3"/><circle cx="813.1" cy="273.4" r="2.3"/><circle cx="825.9" cy="270.2" r="2.3"/><circle cx="825.3" cy="276.9" r="2.3"/><circle cx="710.9" cy="278.5" r="2.3"/><circle cx="742.8" cy="275.9" r="2.3"/><circle cx="742.5" cy="278.3" r="2.3"/><circle cx="769.1" cy="277.8" r="2.3"/><circle cx="764.9" cy="280.3" r="2.3"/><circle cx="731.8" cy="285.2" r="2.3"/><circle cx="745.6" cy="288.2" r="2.3"/><circle cx="764.9" cy="287.8" r="2.3"/><circle cx="771.4" cy="291.2" r="2.3"/><circle cx="779.1" cy="294.0" r="2.3"/><circle cx="799.2" cy="286.8" r="2.3"/><circle cx="792.6" cy="294.2" r="2.3"/><circle cx="823.2" cy="287.8" r="2.3"/><circle cx="692.4" cy="297.5" r="2.3"/><circle cx="769.4" cy="297.3" r="2.3"/><circle cx="724.6" cy="300.5" r="2.3"/><circle cx="724.1" cy="301.0" r="2.3"/><circle cx="724.4" cy="310.0" r="2.3"/><circle cx="751.8" cy="312.1" r="2.3"/><circle cx="766.5" cy="308.1" r="2.3"/><circle cx="775.2" cy="309.5" r="2.3"/><circle cx="784.0" cy="306.1" r="2.3"/><circle cx="771.2" cy="314.6" r="2.3"/><circle cx="810.3" cy="310.0" r="2.3"/><circle cx="807.1" cy="314.9" r="2.3"/><circle cx="706.6" cy="318.8" r="2.3"/><circle cx="700.8" cy="328.3" r="2.3"/><circle cx="741.6" cy="324.8" r="2.3"/><circle cx="747.7" cy="325.7" r="2.3"/><circle cx="724.4" cy="326.9" r="2.3"/><circle cx="721.1" cy="330.4" r="2.3"/><circle cx="717.4" cy="333.2" r="2.3"/><circle cx="705.0" cy="334.3" r="2.3"/><circle cx="726.3" cy="334.8" r="2.3"/><circle cx="731.3" cy="336.2" r="2.3"/><circle cx="753.3" cy="335.5" r="2.3"/><circle cx="772.8" cy="337.1" r="2.3"/><circle cx="788.5" cy="335.7" r="2.3"/><circle cx="789.2" cy="337.3" r="2.3"/><circle cx="681.3" cy="342.6" r="2.3"/><circle cx="764.2" cy="344.0" r="2.3"/><circle cx="776.8" cy="345.0" r="2.3"/><circle cx="792.6" cy="346.1" r="2.3"/><circle cx="731.3" cy="346.1" r="2.3"/><circle cx="715.0" cy="349.4" r="2.3"/><circle cx="752.8" cy="348.4" r="2.3"/><circle cx="767.2" cy="351.0" r="2.3"/><circle cx="710.4" cy="358.4" r="2.3"/><circle cx="763.3" cy="362.6" r="2.3"/><circle cx="778.2" cy="359.8" r="2.3"/><circle cx="779.1" cy="363.5" r="2.3"/><circle cx="839.2" cy="180.5" r="2.3"/><circle cx="843.9" cy="177.7" r="2.3"/><circle cx="832.0" cy="198.1" r="2.3"/><circle cx="835.8" cy="270.2" r="2.3"/><circle cx="849.3" cy="266.0" r="2.3"/></g>
<g fill="#D95319" fill-opacity="0.5" stroke="#D95319" stroke-opacity="0.55" stroke-width="1.05"><circle cx="722.0" cy="237.0" r="2.3"/><circle cx="747.5" cy="242.4" r="2.3"/><circle cx="816.1" cy="229.9" r="2.3"/><circle cx="823.2" cy="229.9" r="2.3"/><circle cx="817.5" cy="243.5" r="2.3"/><circle cx="816.4" cy="250.2" r="2.3"/><circle cx="823.4" cy="247.9" r="2.3"/><circle cx="829.4" cy="261.1" r="2.3"/><circle cx="797.7" cy="259.0" r="2.3"/><circle cx="742.8" cy="264.4" r="2.3"/><circle cx="736.3" cy="269.7" r="2.3"/><circle cx="800.3" cy="274.6" r="2.3"/><circle cx="774.2" cy="281.7" r="2.3"/><circle cx="778.2" cy="284.1" r="2.3"/><circle cx="809.9" cy="283.4" r="2.3"/><circle cx="806.1" cy="287.8" r="2.3"/><circle cx="829.0" cy="278.3" r="2.3"/><circle cx="777.2" cy="292.4" r="2.3"/><circle cx="723.7" cy="300.0" r="2.3"/><circle cx="744.6" cy="304.9" r="2.3"/><circle cx="709.5" cy="311.6" r="2.3"/><circle cx="741.1" cy="310.7" r="2.3"/><circle cx="798.2" cy="307.2" r="2.3"/><circle cx="788.4" cy="312.5" r="2.3"/><circle cx="792.0" cy="316.9" r="2.3"/><circle cx="816.4" cy="313.5" r="2.3"/><circle cx="823.6" cy="318.1" r="2.3"/><circle cx="720.7" cy="333.6" r="2.3"/><circle cx="790.5" cy="335.2" r="2.3"/><circle cx="791.3" cy="340.6" r="2.3"/><circle cx="782.6" cy="341.0" r="2.3"/><circle cx="803.1" cy="341.5" r="2.3"/><circle cx="798.0" cy="348.0" r="2.3"/><circle cx="813.8" cy="332.9" r="2.3"/><circle cx="819.0" cy="330.1" r="2.3"/><circle cx="815.0" cy="337.1" r="2.3"/><circle cx="818.9" cy="342.6" r="2.3"/><circle cx="827.4" cy="333.2" r="2.3"/><circle cx="763.3" cy="360.0" r="2.3"/><circle cx="869.3" cy="169.2" r="2.3"/><circle cx="885.4" cy="182.1" r="2.3"/><circle cx="924.5" cy="211.1" r="2.3"/><circle cx="837.6" cy="241.2" r="2.3"/><circle cx="849.9" cy="240.5" r="2.3"/><circle cx="852.5" cy="245.8" r="2.3"/><circle cx="859.0" cy="243.5" r="2.3"/><circle cx="882.5" cy="238.7" r="2.3"/><circle cx="838.0" cy="252.6" r="2.3"/><circle cx="842.9" cy="254.2" r="2.3"/><circle cx="867.0" cy="253.5" r="2.3"/><circle cx="875.1" cy="248.2" r="2.3"/><circle cx="883.5" cy="255.3" r="2.3"/><circle cx="883.5" cy="256.5" r="2.3"/><circle cx="830.8" cy="261.1" r="2.3"/><circle cx="847.8" cy="264.6" r="2.3"/><circle cx="848.5" cy="270.2" r="2.3"/><circle cx="859.2" cy="270.4" r="2.3"/><circle cx="864.4" cy="269.2" r="2.3"/><circle cx="871.8" cy="269.9" r="2.3"/><circle cx="883.5" cy="272.5" r="2.3"/><circle cx="883.0" cy="278.7" r="2.3"/><circle cx="833.4" cy="275.7" r="2.3"/><circle cx="841.5" cy="275.7" r="2.3"/><circle cx="845.5" cy="277.8" r="2.3"/><circle cx="845.8" cy="283.8" r="2.3"/><circle cx="857.6" cy="275.7" r="2.3"/><circle cx="861.4" cy="275.7" r="2.3"/><circle cx="871.2" cy="285.2" r="2.3"/><circle cx="874.9" cy="286.4" r="2.3"/><circle cx="849.3" cy="296.8" r="2.3"/><circle cx="851.6" cy="300.3" r="2.3"/><circle cx="868.1" cy="294.7" r="2.3"/><circle cx="866.5" cy="297.7" r="2.3"/><circle cx="863.4" cy="301.4" r="2.3"/><circle cx="854.2" cy="309.1" r="2.3"/><circle cx="849.0" cy="313.5" r="2.3"/><circle cx="864.1" cy="310.9" r="2.3"/><circle cx="869.1" cy="309.5" r="2.3"/><circle cx="862.7" cy="315.1" r="2.3"/><circle cx="856.5" cy="320.0" r="2.3"/><circle cx="865.5" cy="320.4" r="2.3"/><circle cx="876.7" cy="306.1" r="2.3"/><circle cx="883.9" cy="306.5" r="2.3"/><circle cx="883.3" cy="312.1" r="2.3"/><circle cx="881.1" cy="319.7" r="2.3"/><circle cx="881.4" cy="324.8" r="2.3"/><circle cx="867.4" cy="330.4" r="2.3"/><circle cx="881.1" cy="330.4" r="2.3"/><circle cx="835.3" cy="329.9" r="2.3"/><circle cx="832.0" cy="332.2" r="2.3"/><circle cx="852.3" cy="335.0" r="2.3"/><circle cx="877.7" cy="342.0" r="2.3"/><circle cx="900.0" cy="336.4" r="2.3"/><circle cx="893.5" cy="293.8" r="2.3"/><circle cx="899.4" cy="296.1" r="2.3"/><circle cx="898.4" cy="291.2" r="2.3"/><circle cx="900.3" cy="283.4" r="2.3"/><circle cx="909.8" cy="348.0" r="2.3"/><circle cx="912.1" cy="352.8" r="2.3"/><circle cx="924.3" cy="245.8" r="2.3"/><circle cx="925.7" cy="246.3" r="2.3"/></g>
<g fill="#EDB120" fill-opacity="0.5" stroke="#EDB120" stroke-opacity="0.55" stroke-width="1.05"><circle cx="748.8" cy="322.7" r="2.3"/><circle cx="902.2" cy="179.1" r="2.3"/><circle cx="946.6" cy="202.5" r="2.3"/><circle cx="908.2" cy="239.1" r="2.3"/><circle cx="922.9" cy="241.0" r="2.3"/><circle cx="923.8" cy="247.7" r="2.3"/><circle cx="928.4" cy="248.2" r="2.3"/><circle cx="914.0" cy="269.9" r="2.3"/><circle cx="877.2" cy="272.9" r="2.3"/><circle cx="947.8" cy="269.2" r="2.3"/><circle cx="928.5" cy="271.8" r="2.3"/><circle cx="896.6" cy="281.0" r="2.3"/><circle cx="901.2" cy="283.6" r="2.3"/><circle cx="905.4" cy="280.8" r="2.3"/><circle cx="907.0" cy="284.3" r="2.3"/><circle cx="908.4" cy="287.3" r="2.3"/><circle cx="903.0" cy="287.8" r="2.3"/><circle cx="928.4" cy="286.8" r="2.3"/><circle cx="893.3" cy="295.2" r="2.3"/><circle cx="899.1" cy="306.1" r="2.3"/><circle cx="893.5" cy="312.8" r="2.3"/><circle cx="870.7" cy="316.5" r="2.3"/><circle cx="919.4" cy="309.5" r="2.3"/><circle cx="912.2" cy="314.4" r="2.3"/><circle cx="943.4" cy="319.0" r="2.3"/><circle cx="911.5" cy="325.5" r="2.3"/><circle cx="918.7" cy="330.1" r="2.3"/><circle cx="926.3" cy="330.8" r="2.3"/><circle cx="938.5" cy="334.1" r="2.3"/><circle cx="943.1" cy="339.4" r="2.3"/><circle cx="940.3" cy="343.1" r="2.3"/><circle cx="866.9" cy="327.8" r="2.3"/><circle cx="872.6" cy="338.7" r="2.3"/><circle cx="887.4" cy="337.3" r="2.3"/><circle cx="890.7" cy="343.8" r="2.3"/><circle cx="904.0" cy="341.5" r="2.3"/><circle cx="902.8" cy="348.9" r="2.3"/><circle cx="857.2" cy="351.0" r="2.3"/><circle cx="844.8" cy="343.8" r="2.3"/><circle cx="831.8" cy="300.3" r="2.3"/><circle cx="846.4" cy="247.7" r="2.3"/><circle cx="972.5" cy="85.1" r="2.3"/><circle cx="972.5" cy="119.2" r="2.3"/><circle cx="998.3" cy="132.4" r="2.3"/><circle cx="984.1" cy="190.3" r="2.3"/><circle cx="987.4" cy="199.5" r="2.3"/><circle cx="974.8" cy="204.6" r="2.3"/><circle cx="986.0" cy="208.6" r="2.3"/><circle cx="951.7" cy="200.9" r="2.3"/><circle cx="955.2" cy="226.6" r="2.3"/><circle cx="963.2" cy="239.1" r="2.3"/><circle cx="984.9" cy="241.7" r="2.3"/><circle cx="990.2" cy="254.2" r="2.3"/><circle cx="1001.4" cy="269.5" r="2.3"/><circle cx="963.6" cy="272.9" r="2.3"/><circle cx="977.2" cy="287.8" r="2.3"/><circle cx="956.7" cy="294.2" r="2.3"/><circle cx="952.0" cy="302.6" r="2.3"/><circle cx="957.4" cy="307.9" r="2.3"/><circle cx="952.7" cy="342.2" r="2.3"/></g>
<g fill="#7E2F8E" fill-opacity="0.5" stroke="#7E2F8E" stroke-opacity="0.55" stroke-width="1.05"><circle cx="790.5" cy="331.1" r="2.3"/><circle cx="901.5" cy="238.9" r="2.3"/><circle cx="934.3" cy="235.2" r="2.3"/><circle cx="929.4" cy="251.9" r="2.3"/><circle cx="904.4" cy="262.5" r="2.3"/><circle cx="909.8" cy="271.3" r="2.3"/><circle cx="924.7" cy="275.3" r="2.3"/><circle cx="932.9" cy="271.3" r="2.3"/><circle cx="948.9" cy="266.5" r="2.3"/><circle cx="879.8" cy="278.3" r="2.3"/><circle cx="885.4" cy="288.9" r="2.3"/><circle cx="873.0" cy="296.1" r="2.3"/><circle cx="847.4" cy="294.0" r="2.3"/><circle cx="929.2" cy="297.5" r="2.3"/><circle cx="940.8" cy="297.3" r="2.3"/><circle cx="935.2" cy="290.8" r="2.3"/><circle cx="945.7" cy="301.4" r="2.3"/><circle cx="884.6" cy="315.3" r="2.3"/><circle cx="884.9" cy="321.6" r="2.3"/><circle cx="903.8" cy="318.8" r="2.3"/><circle cx="911.2" cy="319.5" r="2.3"/><circle cx="922.6" cy="320.2" r="2.3"/><circle cx="924.5" cy="326.2" r="2.3"/><circle cx="931.2" cy="326.4" r="2.3"/><circle cx="923.3" cy="323.2" r="2.3"/><circle cx="919.6" cy="337.1" r="2.3"/><circle cx="915.9" cy="342.0" r="2.3"/><circle cx="916.6" cy="350.8" r="2.3"/><circle cx="926.8" cy="353.1" r="2.3"/><circle cx="891.6" cy="338.5" r="2.3"/><circle cx="880.2" cy="345.0" r="2.3"/><circle cx="876.5" cy="332.7" r="2.3"/><circle cx="866.5" cy="344.0" r="2.3"/><circle cx="1057.8" cy="80.0" r="2.3"/><circle cx="986.3" cy="125.4" r="2.3"/><circle cx="1031.9" cy="193.7" r="2.3"/><circle cx="991.4" cy="222.0" r="2.3"/><circle cx="1022.4" cy="241.2" r="2.3"/><circle cx="1016.3" cy="259.3" r="2.3"/><circle cx="1013.0" cy="265.8" r="2.3"/><circle cx="1017.0" cy="270.2" r="2.3"/><circle cx="1059.6" cy="282.4" r="2.3"/><circle cx="1072.7" cy="357.9" r="2.3"/><circle cx="992.5" cy="302.8" r="2.3"/><circle cx="972.9" cy="261.4" r="2.3"/><circle cx="971.1" cy="241.7" r="2.3"/><circle cx="974.4" cy="244.4" r="2.3"/><circle cx="954.5" cy="228.9" r="2.3"/><circle cx="951.7" cy="238.0" r="2.3"/><circle cx="951.0" cy="250.5" r="2.3"/><circle cx="957.4" cy="267.8" r="2.3"/><circle cx="963.2" cy="278.3" r="2.3"/><circle cx="975.5" cy="273.2" r="2.3"/><circle cx="976.5" cy="276.4" r="2.3"/><circle cx="995.3" cy="271.5" r="2.3"/><circle cx="988.4" cy="282.7" r="2.3"/><circle cx="962.2" cy="293.5" r="2.3"/><circle cx="960.6" cy="290.3" r="2.3"/><circle cx="978.6" cy="309.3" r="2.3"/><circle cx="984.9" cy="312.1" r="2.3"/><circle cx="991.4" cy="319.5" r="2.3"/><circle cx="1003.7" cy="314.6" r="2.3"/><circle cx="1005.1" cy="314.2" r="2.3"/><circle cx="958.1" cy="324.4" r="2.3"/><circle cx="971.1" cy="344.3" r="2.3"/></g>
<g fill="#77AC30" fill-opacity="0.5" stroke="#77AC30" stroke-opacity="0.55" stroke-width="1.05"><circle cx="912.2" cy="314.4" r="2.3"/><circle cx="942.9" cy="330.8" r="2.3"/><circle cx="1103.7" cy="76.1" r="2.3"/><circle cx="1078.2" cy="99.7" r="2.3"/><circle cx="1009.1" cy="136.3" r="2.3"/><circle cx="1062.2" cy="159.2" r="2.3"/><circle cx="1068.0" cy="172.7" r="2.3"/><circle cx="1031.9" cy="173.6" r="2.3"/><circle cx="1034.7" cy="178.0" r="2.3"/><circle cx="1033.6" cy="183.5" r="2.3"/><circle cx="1043.1" cy="199.1" r="2.3"/><circle cx="991.8" cy="198.8" r="2.3"/><circle cx="1089.2" cy="198.8" r="2.3"/><circle cx="1075.2" cy="204.2" r="2.3"/><circle cx="1080.3" cy="209.0" r="2.3"/><circle cx="1026.1" cy="216.4" r="2.3"/><circle cx="1006.8" cy="228.9" r="2.3"/><circle cx="1013.7" cy="231.0" r="2.3"/><circle cx="1028.2" cy="231.5" r="2.3"/><circle cx="1023.1" cy="225.2" r="2.3"/><circle cx="1061.9" cy="222.0" r="2.3"/><circle cx="1068.0" cy="225.7" r="2.3"/><circle cx="1049.6" cy="237.3" r="2.3"/><circle cx="1074.1" cy="239.8" r="2.3"/><circle cx="1033.3" cy="250.0" r="2.3"/><circle cx="1096.2" cy="252.6" r="2.3"/><circle cx="992.5" cy="266.5" r="2.3"/><circle cx="1086.4" cy="266.5" r="2.3"/><circle cx="1052.0" cy="271.8" r="2.3"/><circle cx="1056.1" cy="271.8" r="2.3"/><circle cx="1064.3" cy="275.9" r="2.3"/><circle cx="1069.0" cy="274.3" r="2.3"/><circle cx="1082.7" cy="276.6" r="2.3"/><circle cx="1082.0" cy="280.3" r="2.3"/><circle cx="995.6" cy="288.2" r="2.3"/><circle cx="1000.4" cy="294.7" r="2.3"/><circle cx="1003.0" cy="292.4" r="2.3"/><circle cx="1074.5" cy="301.4" r="2.3"/><circle cx="1091.8" cy="295.6" r="2.3"/><circle cx="1023.1" cy="305.1" r="2.3"/><circle cx="1004.4" cy="307.0" r="2.3"/><circle cx="1004.4" cy="311.6" r="2.3"/><circle cx="994.2" cy="314.2" r="2.3"/><circle cx="986.7" cy="317.9" r="2.3"/><circle cx="1049.6" cy="310.7" r="2.3"/><circle cx="1022.8" cy="323.2" r="2.3"/><circle cx="1008.8" cy="330.4" r="2.3"/><circle cx="962.5" cy="327.4" r="2.3"/><circle cx="954.5" cy="315.3" r="2.3"/><circle cx="970.1" cy="335.5" r="2.3"/></g>
<line x1="679.6" y1="71.1" x2="679.6" y2="400.1" stroke="#262626" stroke-width="4.6"/>
<line x1="677.3" y1="398.0" x2="1123.6" y2="398.0" stroke="#262626" stroke-width="4.3"/>
<line x1="679.6" y1="351.7" x2="686.0" y2="351.7" stroke="#262626" stroke-width="4.2"/>
<line x1="679.6" y1="305.4" x2="686.0" y2="305.4" stroke="#262626" stroke-width="4.2"/>
<line x1="679.6" y1="259.0" x2="686.0" y2="259.0" stroke="#262626" stroke-width="4.2"/>
<line x1="679.6" y1="212.7" x2="686.0" y2="212.7" stroke="#262626" stroke-width="4.2"/>
<line x1="679.6" y1="166.4" x2="686.0" y2="166.4" stroke="#262626" stroke-width="4.2"/>
<line x1="679.6" y1="120.1" x2="686.0" y2="120.1" stroke="#262626" stroke-width="4.2"/>
<line x1="701.5" y1="398.0" x2="701.5" y2="390.1" stroke="#262626" stroke-width="3.8"/>
<line x1="718.5" y1="398.0" x2="718.5" y2="390.1" stroke="#262626" stroke-width="3.8"/>
<line x1="732.3" y1="398.0" x2="732.3" y2="390.1" stroke="#262626" stroke-width="3.8"/>
<line x1="744.1" y1="398.0" x2="744.1" y2="390.1" stroke="#262626" stroke-width="3.8"/>
<line x1="754.2" y1="398.0" x2="754.2" y2="390.1" stroke="#262626" stroke-width="3.8"/>
<line x1="763.2" y1="398.0" x2="763.2" y2="390.1" stroke="#262626" stroke-width="3.8"/>
<line x1="771.2" y1="398.0" x2="771.2" y2="382.7" stroke="#262626" stroke-width="3.8"/>
<line x1="823.9" y1="398.0" x2="823.9" y2="390.1" stroke="#262626" stroke-width="3.8"/>
<line x1="854.8" y1="398.0" x2="854.8" y2="390.1" stroke="#262626" stroke-width="3.8"/>
<line x1="876.7" y1="398.0" x2="876.7" y2="390.1" stroke="#262626" stroke-width="3.8"/>
<line x1="893.7" y1="398.0" x2="893.7" y2="390.1" stroke="#262626" stroke-width="3.8"/>
<line x1="907.5" y1="398.0" x2="907.5" y2="390.1" stroke="#262626" stroke-width="3.8"/>
<line x1="919.3" y1="398.0" x2="919.3" y2="390.1" stroke="#262626" stroke-width="3.8"/>
<line x1="929.4" y1="398.0" x2="929.4" y2="390.1" stroke="#262626" stroke-width="3.8"/>
<line x1="938.4" y1="398.0" x2="938.4" y2="390.1" stroke="#262626" stroke-width="3.8"/>
<line x1="946.4" y1="398.0" x2="946.4" y2="382.7" stroke="#262626" stroke-width="3.8"/>
<line x1="999.1" y1="398.0" x2="999.1" y2="390.1" stroke="#262626" stroke-width="3.8"/>
<line x1="1030.0" y1="398.0" x2="1030.0" y2="390.1" stroke="#262626" stroke-width="3.8"/>
<line x1="1051.9" y1="398.0" x2="1051.9" y2="390.1" stroke="#262626" stroke-width="3.8"/>
<line x1="1068.9" y1="398.0" x2="1068.9" y2="390.1" stroke="#262626" stroke-width="3.8"/>
<line x1="1082.7" y1="398.0" x2="1082.7" y2="390.1" stroke="#262626" stroke-width="3.8"/>
<line x1="1094.5" y1="398.0" x2="1094.5" y2="390.1" stroke="#262626" stroke-width="3.8"/>
<line x1="1104.6" y1="398.0" x2="1104.6" y2="390.1" stroke="#262626" stroke-width="3.8"/>
<line x1="1113.6" y1="398.0" x2="1113.6" y2="390.1" stroke="#262626" stroke-width="3.8"/>
<line x1="1121.6" y1="398.0" x2="1121.6" y2="382.7" stroke="#262626" stroke-width="3.8"/>
<g font-family="'Liberation Sans', sans-serif" fill="#000">
<text transform="translate(744.4,434.8) scale(1,1.075)" font-size="32">10<tspan font-size="19" dy="-10">4</tspan></text>
<text transform="translate(920.9,434.8) scale(1,1.075)" font-size="32">10<tspan font-size="19" dy="-10">5</tspan></text>
<text transform="translate(1098.4,434.8) scale(1,1.075)" font-size="32">10<tspan font-size="19" dy="-10">6</tspan></text>
<text transform="translate(662.4,134.6) scale(1,1.075)" font-size="32" text-anchor="end">120</text>
<text transform="translate(666.8,227.2) scale(1,1.075)" font-size="32" text-anchor="end">80</text>
<text transform="translate(666.8,319.9) scale(1,1.075)" font-size="32" text-anchor="end">40</text>
<text x="775.6" y="474.0" font-size="32.5">Loading rate (pN/s)</text>
<text x="721.0" y="61.0" font-size="32">wt YidC - 52 ms contact</text>
<text x="576.3" y="35.1" font-size="47.5">b</text>
</g>
<text font-family="'Liberation Sans', sans-serif" font-size="32" transform="translate(612.4,320.8) rotate(-90)">Force (pN)</text>
<line x1="134.9" y1="604.6" x2="134.9" y2="928.0" stroke="#cdcdcd" stroke-width="1" stroke-dasharray="1,1.4"/>
<line x1="151.8" y1="604.6" x2="151.8" y2="928.0" stroke="#cdcdcd" stroke-width="1" stroke-dasharray="1,1.4"/>
<line x1="165.7" y1="604.6" x2="165.7" y2="928.0" stroke="#cdcdcd" stroke-width="1" stroke-dasharray="1,1.4"/>
<line x1="177.4" y1="604.6" x2="177.4" y2="928.0" stroke="#cdcdcd" stroke-width="1" stroke-dasharray="1,1.4"/>
<line x1="187.5" y1="604.6" x2="187.5" y2="928.0" stroke="#cdcdcd" stroke-width="1" stroke-dasharray="1,1.4"/>
<line x1="196.5" y1="604.6" x2="196.5" y2="928.0" stroke="#cdcdcd" stroke-width="1" stroke-dasharray="1,1.4"/>
<line x1="204.5" y1="604.6" x2="204.5" y2="928.0" stroke="#e3e3e3" stroke-width="1.2"/>
<line x1="257.2" y1="604.6" x2="257.2" y2="928.0" stroke="#cdcdcd" stroke-width="1" stroke-dasharray="1,1.4"/>
<line x1="288.0" y1="604.6" x2="288.0" y2="928.0" stroke="#cdcdcd" stroke-width="1" stroke-dasharray="1,1.4"/>
<line x1="309.9" y1="604.6" x2="309.9" y2="928.0" stroke="#cdcdcd" stroke-width="1" stroke-dasharray="1,1.4"/>
<line x1="326.8" y1="604.6" x2="326.8" y2="928.0" stroke="#cdcdcd" stroke-width="1" stroke-dasharray="1,1.4"/>
<line x1="340.7" y1="604.6" x2="340.7" y2="928.0" stroke="#cdcdcd" stroke-width="1" stroke-dasharray="1,1.4"/>
<line x1="352.4" y1="604.6" x2="352.4" y2="928.0" stroke="#cdcdcd" stroke-width="1" stroke-dasharray="1,1.4"/>
<line x1="362.5" y1="604.6" x2="362.5" y2="928.0" stroke="#cdcdcd" stroke-width="1" stroke-dasharray="1,1.4"/>
<line x1="371.5" y1="604.6" x2="371.5" y2="928.0" stroke="#cdcdcd" stroke-width="1" stroke-dasharray="1,1.4"/>
<line x1="379.5" y1="604.6" x2="379.5" y2="928.0" stroke="#e3e3e3" stroke-width="1.2"/>
<line x1="432.2" y1="604.6" x2="432.2" y2="928.0" stroke="#cdcdcd" stroke-width="1" stroke-dasharray="1,1.4"/>
<line x1="463.0" y1="604.6" x2="463.0" y2="928.0" stroke="#cdcdcd" stroke-width="1" stroke-dasharray="1,1.4"/>
<line x1="484.9" y1="604.6" x2="484.9" y2="928.0" stroke="#cdcdcd" stroke-width="1" stroke-dasharray="1,1.4"/>
<line x1="501.8" y1="604.6" x2="501.8" y2="928.0" stroke="#cdcdcd" stroke-width="1" stroke-dasharray="1,1.4"/>
<line x1="515.7" y1="604.6" x2="515.7" y2="928.0" stroke="#cdcdcd" stroke-width="1" stroke-dasharray="1,1.4"/>
<line x1="527.4" y1="604.6" x2="527.4" y2="928.0" stroke="#cdcdcd" stroke-width="1" stroke-dasharray="1,1.4"/>
<line x1="537.5" y1="604.6" x2="537.5" y2="928.0" stroke="#cdcdcd" stroke-width="1" stroke-dasharray="1,1.4"/>
<line x1="546.5" y1="604.6" x2="546.5" y2="928.0" stroke="#cdcdcd" stroke-width="1" stroke-dasharray="1,1.4"/>
<line x1="112.7" y1="881.7" x2="554.5" y2="881.7" stroke="#e9e9e9" stroke-width="1.1"/>
<line x1="112.7" y1="835.4" x2="554.5" y2="835.4" stroke="#e9e9e9" stroke-width="1.1"/>
<line x1="112.7" y1="789.0" x2="554.5" y2="789.0" stroke="#e9e9e9" stroke-width="1.1"/>
<line x1="112.7" y1="742.7" x2="554.5" y2="742.7" stroke="#e9e9e9" stroke-width="1.1"/>
<line x1="112.7" y1="696.4" x2="554.5" y2="696.4" stroke="#e9e9e9" stroke-width="1.1"/>
<line x1="112.7" y1="650.1" x2="554.5" y2="650.1" stroke="#e9e9e9" stroke-width="1.1"/>
<circle cx="159.5" cy="863.8" r="7.8" fill="#000"/><circle cx="246.3" cy="856.0" r="7.8" fill="#000"/><circle cx="311.9" cy="853.7" r="7.8" fill="#000"/><circle cx="382.5" cy="854.8" r="7.8" fill="#000"/><circle cx="428.3" cy="843.5" r="7.8" fill="#000"/>
<line x1="112.6" y1="866.2" x2="435.5" y2="847.9" stroke="#ff0000" stroke-width="6.5" stroke-dasharray="12,12"/>
<g fill="#0072BD" fill-opacity="0.5" stroke="#0072BD" stroke-opacity="0.55" stroke-width="1.05"><circle cx="250.2" cy="698.0" r="2.3"/><circle cx="128.7" cy="741.1" r="2.3"/><circle cx="232.8" cy="779.3" r="2.3"/><circle cx="214.0" cy="807.1" r="2.3"/><circle cx="180.4" cy="813.6" r="2.3"/><circle cx="174.9" cy="819.6" r="2.3"/><circle cx="194.7" cy="814.3" r="2.3"/><circle cx="195.2" cy="815.2" r="2.3"/><circle cx="200.5" cy="822.6" r="2.3"/><circle cx="213.4" cy="822.2" r="2.3"/><circle cx="233.0" cy="817.1" r="2.3"/><circle cx="247.2" cy="818.2" r="2.3"/><circle cx="257.2" cy="806.9" r="2.3"/><circle cx="223.0" cy="822.4" r="2.3"/><circle cx="223.8" cy="827.9" r="2.3"/><circle cx="232.0" cy="828.6" r="2.3"/><circle cx="195.2" cy="831.7" r="2.3"/><circle cx="197.9" cy="833.0" r="2.3"/><circle cx="240.9" cy="835.4" r="2.3"/><circle cx="258.9" cy="835.4" r="2.3"/><circle cx="212.0" cy="837.9" r="2.3"/><circle cx="210.3" cy="842.1" r="2.3"/><circle cx="222.7" cy="843.9" r="2.3"/><circle cx="164.4" cy="837.9" r="2.3"/><circle cx="172.1" cy="841.4" r="2.3"/><circle cx="188.1" cy="846.0" r="2.3"/><circle cx="251.1" cy="844.4" r="2.3"/><circle cx="124.0" cy="846.2" r="2.3"/><circle cx="167.1" cy="852.5" r="2.3"/><circle cx="166.0" cy="854.1" r="2.3"/><circle cx="186.0" cy="852.7" r="2.3"/><circle cx="195.2" cy="859.0" r="2.3"/><circle cx="192.4" cy="862.9" r="2.3"/><circle cx="154.1" cy="866.9" r="2.3"/><circle cx="164.1" cy="860.8" r="2.3"/><circle cx="136.4" cy="864.8" r="2.3"/><circle cx="135.4" cy="868.9" r="2.3"/><circle cx="140.4" cy="871.5" r="2.3"/><circle cx="128.2" cy="867.1" r="2.3"/><circle cx="120.5" cy="868.2" r="2.3"/><circle cx="220.1" cy="860.1" r="2.3"/><circle cx="224.6" cy="861.3" r="2.3"/><circle cx="230.0" cy="860.8" r="2.3"/><circle cx="211.3" cy="868.5" r="2.3"/><circle cx="231.6" cy="870.1" r="2.3"/><circle cx="250.2" cy="855.7" r="2.3"/><circle cx="116.5" cy="883.5" r="2.3"/><circle cx="122.2" cy="884.2" r="2.3"/><circle cx="138.7" cy="881.4" r="2.3"/><circle cx="148.8" cy="880.8" r="2.3"/><circle cx="158.8" cy="878.7" r="2.3"/><circle cx="166.0" cy="880.3" r="2.3"/><circle cx="183.5" cy="879.8" r="2.3"/><circle cx="152.9" cy="890.9" r="2.3"/><circle cx="178.8" cy="891.4" r="2.3"/><circle cx="211.7" cy="881.2" r="2.3"/><circle cx="224.4" cy="882.1" r="2.3"/><circle cx="236.2" cy="887.5" r="2.3"/><circle cx="259.6" cy="852.5" r="2.3"/><circle cx="262.6" cy="772.8" r="2.3"/><circle cx="266.5" cy="805.3" r="2.3"/><circle cx="261.0" cy="852.5" r="2.3"/><circle cx="265.1" cy="863.4" r="2.3"/><circle cx="269.2" cy="871.5" r="2.3"/><circle cx="290.3" cy="878.9" r="2.3"/><circle cx="301.6" cy="867.1" r="2.3"/></g>
<g fill="#D95319" fill-opacity="0.5" stroke="#D95319" stroke-opacity="0.55" stroke-width="1.05"><circle cx="250.7" cy="778.8" r="2.3"/><circle cx="221.5" cy="820.3" r="2.3"/><circle cx="225.3" cy="829.8" r="2.3"/><circle cx="228.0" cy="835.4" r="2.3"/><circle cx="226.0" cy="840.0" r="2.3"/><circle cx="236.2" cy="841.8" r="2.3"/><circle cx="238.6" cy="844.4" r="2.3"/><circle cx="240.9" cy="846.2" r="2.3"/><circle cx="170.2" cy="845.1" r="2.3"/><circle cx="196.5" cy="851.1" r="2.3"/><circle cx="169.0" cy="856.2" r="2.3"/><circle cx="174.6" cy="859.2" r="2.3"/><circle cx="179.7" cy="858.8" r="2.3"/><circle cx="198.2" cy="862.2" r="2.3"/><circle cx="211.7" cy="856.7" r="2.3"/><circle cx="229.7" cy="853.2" r="2.3"/><circle cx="238.6" cy="853.9" r="2.3"/><circle cx="143.6" cy="874.0" r="2.3"/><circle cx="162.5" cy="876.1" r="2.3"/><circle cx="201.7" cy="885.4" r="2.3"/><circle cx="183.5" cy="883.1" r="2.3"/><circle cx="190.3" cy="880.3" r="2.3"/><circle cx="142.0" cy="894.0" r="2.3"/><circle cx="229.7" cy="884.2" r="2.3"/><circle cx="233.9" cy="890.9" r="2.3"/><circle cx="244.2" cy="880.3" r="2.3"/><circle cx="249.3" cy="878.0" r="2.3"/><circle cx="256.6" cy="875.0" r="2.3"/><circle cx="257.9" cy="880.3" r="2.3"/><circle cx="257.7" cy="890.9" r="2.3"/><circle cx="259.6" cy="839.5" r="2.3"/><circle cx="269.2" cy="739.0" r="2.3"/><circle cx="290.9" cy="751.5" r="2.3"/><circle cx="288.1" cy="789.5" r="2.3"/><circle cx="325.6" cy="788.1" r="2.3"/><circle cx="303.9" cy="808.3" r="2.3"/><circle cx="372.5" cy="797.6" r="2.3"/><circle cx="274.3" cy="821.7" r="2.3"/><circle cx="262.2" cy="830.0" r="2.3"/><circle cx="271.0" cy="827.9" r="2.3"/><circle cx="261.7" cy="840.0" r="2.3"/><circle cx="278.2" cy="837.9" r="2.3"/><circle cx="270.3" cy="844.6" r="2.3"/><circle cx="268.5" cy="849.0" r="2.3"/><circle cx="300.6" cy="832.6" r="2.3"/><circle cx="305.5" cy="842.5" r="2.3"/><circle cx="269.8" cy="864.8" r="2.3"/><circle cx="272.4" cy="872.2" r="2.3"/><circle cx="281.9" cy="876.4" r="2.3"/><circle cx="263.5" cy="884.7" r="2.3"/><circle cx="275.2" cy="885.2" r="2.3"/><circle cx="297.6" cy="886.8" r="2.3"/><circle cx="314.2" cy="857.8" r="2.3"/><circle cx="330.7" cy="857.1" r="2.3"/><circle cx="356.4" cy="851.3" r="2.3"/><circle cx="288.7" cy="854.4" r="2.3"/><circle cx="351.5" cy="681.8" r="2.3"/></g>
<g fill="#EDB120" fill-opacity="0.5" stroke="#EDB120" stroke-opacity="0.55" stroke-width="1.05"><circle cx="251.9" cy="850.4" r="2.3"/><circle cx="203.5" cy="868.5" r="2.3"/><circle cx="188.9" cy="875.0" r="2.3"/><circle cx="195.9" cy="877.3" r="2.3"/><circle cx="224.8" cy="866.2" r="2.3"/><circle cx="235.8" cy="873.3" r="2.3"/><circle cx="248.8" cy="865.2" r="2.3"/><circle cx="219.6" cy="860.1" r="2.3"/><circle cx="383.4" cy="692.7" r="2.3"/><circle cx="404.4" cy="707.1" r="2.3"/><circle cx="401.4" cy="742.5" r="2.3"/><circle cx="377.2" cy="750.6" r="2.3"/><circle cx="398.8" cy="795.8" r="2.3"/><circle cx="391.6" cy="797.4" r="2.3"/><circle cx="352.2" cy="813.4" r="2.3"/><circle cx="288.5" cy="819.1" r="2.3"/><circle cx="284.1" cy="830.3" r="2.3"/><circle cx="301.6" cy="827.9" r="2.3"/><circle cx="303.0" cy="827.3" r="2.3"/><circle cx="295.3" cy="842.1" r="2.3"/><circle cx="291.5" cy="844.6" r="2.3"/><circle cx="299.3" cy="850.6" r="2.3"/><circle cx="297.3" cy="856.2" r="2.3"/><circle cx="297.6" cy="864.5" r="2.3"/><circle cx="322.3" cy="848.1" r="2.3"/><circle cx="327.2" cy="838.4" r="2.3"/><circle cx="328.6" cy="842.5" r="2.3"/><circle cx="329.5" cy="844.6" r="2.3"/><circle cx="336.4" cy="842.3" r="2.3"/><circle cx="329.1" cy="829.8" r="2.3"/><circle cx="336.6" cy="828.9" r="2.3"/><circle cx="325.6" cy="864.8" r="2.3"/><circle cx="340.6" cy="853.9" r="2.3"/><circle cx="346.2" cy="860.1" r="2.3"/><circle cx="349.6" cy="865.0" r="2.3"/><circle cx="344.8" cy="868.7" r="2.3"/><circle cx="372.0" cy="833.7" r="2.3"/><circle cx="392.1" cy="827.3" r="2.3"/><circle cx="399.4" cy="826.8" r="2.3"/><circle cx="400.5" cy="884.9" r="2.3"/><circle cx="396.5" cy="857.4" r="2.3"/><circle cx="357.4" cy="829.8" r="2.3"/><circle cx="266.1" cy="853.9" r="2.3"/><circle cx="283.4" cy="852.0" r="2.3"/><circle cx="461.7" cy="759.6" r="2.3"/><circle cx="431.6" cy="817.1" r="2.3"/><circle cx="449.3" cy="869.2" r="2.3"/><circle cx="417.8" cy="881.2" r="2.3"/></g>
<g fill="#7E2F8E" fill-opacity="0.5" stroke="#7E2F8E" stroke-opacity="0.55" stroke-width="1.05"><circle cx="303.0" cy="786.0" r="2.3"/><circle cx="381.1" cy="774.2" r="2.3"/><circle cx="393.0" cy="796.2" r="2.3"/><circle cx="381.1" cy="812.9" r="2.3"/><circle cx="387.7" cy="818.0" r="2.3"/><circle cx="354.6" cy="827.7" r="2.3"/><circle cx="356.8" cy="834.0" r="2.3"/><circle cx="361.0" cy="837.0" r="2.3"/><circle cx="370.2" cy="831.7" r="2.3"/><circle cx="385.6" cy="838.4" r="2.3"/><circle cx="403.5" cy="826.3" r="2.3"/><circle cx="403.3" cy="835.4" r="2.3"/><circle cx="393.2" cy="847.6" r="2.3"/><circle cx="332.3" cy="829.6" r="2.3"/><circle cx="324.5" cy="856.2" r="2.3"/><circle cx="339.2" cy="858.5" r="2.3"/><circle cx="346.2" cy="847.6" r="2.3"/><circle cx="353.1" cy="844.2" r="2.3"/><circle cx="348.7" cy="847.6" r="2.3"/><circle cx="352.7" cy="859.2" r="2.3"/><circle cx="361.5" cy="860.1" r="2.3"/><circle cx="361.0" cy="867.3" r="2.3"/><circle cx="373.4" cy="865.9" r="2.3"/><circle cx="378.6" cy="865.2" r="2.3"/><circle cx="376.2" cy="855.5" r="2.3"/><circle cx="312.8" cy="865.7" r="2.3"/><circle cx="290.9" cy="866.9" r="2.3"/><circle cx="384.2" cy="879.6" r="2.3"/><circle cx="391.9" cy="872.0" r="2.3"/><circle cx="399.6" cy="866.9" r="2.3"/><circle cx="405.8" cy="882.8" r="2.3"/><circle cx="415.7" cy="751.1" r="2.3"/><circle cx="458.2" cy="765.4" r="2.3"/><circle cx="458.6" cy="775.6" r="2.3"/><circle cx="524.2" cy="782.6" r="2.3"/><circle cx="431.6" cy="795.3" r="2.3"/><circle cx="437.4" cy="809.7" r="2.3"/><circle cx="437.8" cy="815.2" r="2.3"/><circle cx="446.7" cy="816.4" r="2.3"/><circle cx="449.5" cy="811.0" r="2.3"/><circle cx="457.5" cy="807.1" r="2.3"/><circle cx="460.5" cy="824.7" r="2.3"/><circle cx="419.8" cy="821.2" r="2.3"/><circle cx="407.0" cy="829.8" r="2.3"/><circle cx="430.9" cy="831.7" r="2.3"/><circle cx="409.1" cy="839.5" r="2.3"/><circle cx="417.1" cy="843.0" r="2.3"/><circle cx="411.5" cy="851.1" r="2.3"/><circle cx="421.3" cy="854.4" r="2.3"/><circle cx="409.6" cy="859.4" r="2.3"/><circle cx="410.5" cy="862.5" r="2.3"/><circle cx="439.5" cy="860.8" r="2.3"/><circle cx="450.0" cy="865.0" r="2.3"/><circle cx="464.7" cy="860.4" r="2.3"/><circle cx="466.7" cy="857.6" r="2.3"/><circle cx="478.7" cy="842.5" r="2.3"/><circle cx="482.4" cy="862.9" r="2.3"/><circle cx="407.5" cy="882.4" r="2.3"/></g>
<g fill="#77AC30" fill-opacity="0.5" stroke="#77AC30" stroke-opacity="0.55" stroke-width="1.05"><circle cx="233.6" cy="864.1" r="2.3"/><circle cx="336.4" cy="811.3" r="2.3"/><circle cx="396.5" cy="807.1" r="2.3"/><circle cx="387.0" cy="829.6" r="2.3"/><circle cx="341.2" cy="834.4" r="2.3"/><circle cx="359.4" cy="836.3" r="2.3"/><circle cx="370.2" cy="844.2" r="2.3"/><circle cx="372.5" cy="847.6" r="2.3"/><circle cx="350.8" cy="851.1" r="2.3"/><circle cx="348.5" cy="861.3" r="2.3"/><circle cx="353.4" cy="865.2" r="2.3"/><circle cx="370.2" cy="868.0" r="2.3"/><circle cx="395.1" cy="856.0" r="2.3"/><circle cx="400.3" cy="869.2" r="2.3"/><circle cx="401.2" cy="844.6" r="2.3"/><circle cx="303.9" cy="867.1" r="2.3"/><circle cx="442.9" cy="734.6" r="2.3"/><circle cx="507.3" cy="761.0" r="2.3"/><circle cx="508.1" cy="800.4" r="2.3"/><circle cx="444.2" cy="806.9" r="2.3"/><circle cx="467.3" cy="809.4" r="2.3"/><circle cx="408.2" cy="812.7" r="2.3"/><circle cx="418.5" cy="816.4" r="2.3"/><circle cx="426.1" cy="825.6" r="2.3"/><circle cx="442.0" cy="816.1" r="2.3"/><circle cx="459.5" cy="817.5" r="2.3"/><circle cx="469.1" cy="822.4" r="2.3"/><circle cx="482.6" cy="824.9" r="2.3"/><circle cx="488.3" cy="823.3" r="2.3"/><circle cx="527.2" cy="828.6" r="2.3"/><circle cx="443.0" cy="834.7" r="2.3"/><circle cx="443.5" cy="837.9" r="2.3"/><circle cx="454.2" cy="837.7" r="2.3"/><circle cx="470.3" cy="835.4" r="2.3"/><circle cx="503.6" cy="839.1" r="2.3"/><circle cx="544.5" cy="847.2" r="2.3"/><circle cx="461.7" cy="845.3" r="2.3"/><circle cx="462.1" cy="846.2" r="2.3"/><circle cx="474.2" cy="849.3" r="2.3"/><circle cx="482.6" cy="845.3" r="2.3"/><circle cx="455.6" cy="850.4" r="2.3"/><circle cx="450.0" cy="853.0" r="2.3"/><circle cx="430.9" cy="853.9" r="2.3"/><circle cx="435.3" cy="846.5" r="2.3"/><circle cx="419.8" cy="860.6" r="2.3"/><circle cx="531.4" cy="854.4" r="2.3"/><circle cx="471.2" cy="869.4" r="2.3"/><circle cx="479.6" cy="866.9" r="2.3"/><circle cx="517.9" cy="875.7" r="2.3"/><circle cx="461.4" cy="880.8" r="2.3"/><circle cx="463.7" cy="881.7" r="2.3"/><circle cx="471.7" cy="884.0" r="2.3"/><circle cx="472.8" cy="877.7" r="2.3"/><circle cx="410.3" cy="844.9" r="2.3"/></g>
<line x1="112.7" y1="601.1" x2="112.7" y2="930.1" stroke="#262626" stroke-width="4.6"/>
<line x1="110.4" y1="928.0" x2="556.5" y2="928.0" stroke="#262626" stroke-width="4.3"/>
<line x1="112.7" y1="881.7" x2="119.1" y2="881.7" stroke="#262626" stroke-width="4.2"/>
<line x1="112.7" y1="835.4" x2="119.1" y2="835.4" stroke="#262626" stroke-width="4.2"/>
<line x1="112.7" y1="789.0" x2="119.1" y2="789.0" stroke="#262626" stroke-width="4.2"/>
<line x1="112.7" y1="742.7" x2="119.1" y2="742.7" stroke="#262626" stroke-width="4.2"/>
<line x1="112.7" y1="696.4" x2="119.1" y2="696.4" stroke="#262626" stroke-width="4.2"/>
<line x1="112.7" y1="650.1" x2="119.1" y2="650.1" stroke="#262626" stroke-width="4.2"/>
<line x1="134.9" y1="928.0" x2="134.9" y2="920.1" stroke="#262626" stroke-width="3.8"/>
<line x1="151.8" y1="928.0" x2="151.8" y2="920.1" stroke="#262626" stroke-width="3.8"/>
<line x1="165.7" y1="928.0" x2="165.7" y2="920.1" stroke="#262626" stroke-width="3.8"/>
<line x1="177.4" y1="928.0" x2="177.4" y2="920.1" stroke="#262626" stroke-width="3.8"/>
<line x1="187.5" y1="928.0" x2="187.5" y2="920.1" stroke="#262626" stroke-width="3.8"/>
<line x1="196.5" y1="928.0" x2="196.5" y2="920.1" stroke="#262626" stroke-width="3.8"/>
<line x1="204.5" y1="928.0" x2="204.5" y2="912.7" stroke="#262626" stroke-width="3.8"/>
<line x1="257.2" y1="928.0" x2="257.2" y2="920.1" stroke="#262626" stroke-width="3.8"/>
<line x1="288.0" y1="928.0" x2="288.0" y2="920.1" stroke="#262626" stroke-width="3.8"/>
<line x1="309.9" y1="928.0" x2="309.9" y2="920.1" stroke="#262626" stroke-width="3.8"/>
<line x1="326.8" y1="928.0" x2="326.8" y2="920.1" stroke="#262626" stroke-width="3.8"/>
<line x1="340.7" y1="928.0" x2="340.7" y2="920.1" stroke="#262626" stroke-width="3.8"/>
<line x1="352.4" y1="928.0" x2="352.4" y2="920.1" stroke="#262626" stroke-width="3.8"/>
<line x1="362.5" y1="928.0" x2="362.5" y2="920.1" stroke="#262626" stroke-width="3.8"/>
<line x1="371.5" y1="928.0" x2="371.5" y2="920.1" stroke="#262626" stroke-width="3.8"/>
<line x1="379.5" y1="928.0" x2="379.5" y2="912.7" stroke="#262626" stroke-width="3.8"/>
<line x1="432.2" y1="928.0" x2="432.2" y2="920.1" stroke="#262626" stroke-width="3.8"/>
<line x1="463.0" y1="928.0" x2="463.0" y2="920.1" stroke="#262626" stroke-width="3.8"/>
<line x1="484.9" y1="928.0" x2="484.9" y2="920.1" stroke="#262626" stroke-width="3.8"/>
<line x1="501.8" y1="928.0" x2="501.8" y2="920.1" stroke="#262626" stroke-width="3.8"/>
<line x1="515.7" y1="928.0" x2="515.7" y2="920.1" stroke="#262626" stroke-width="3.8"/>
<line x1="527.4" y1="928.0" x2="527.4" y2="920.1" stroke="#262626" stroke-width="3.8"/>
<line x1="537.5" y1="928.0" x2="537.5" y2="920.1" stroke="#262626" stroke-width="3.8"/>
<line x1="546.5" y1="928.0" x2="546.5" y2="920.1" stroke="#262626" stroke-width="3.8"/>
<line x1="554.5" y1="928.0" x2="554.5" y2="912.7" stroke="#262626" stroke-width="3.8"/>
<g font-family="'Liberation Sans', sans-serif" fill="#000">
<text transform="translate(178.9,964.8) scale(1,1.075)" font-size="32">10<tspan font-size="19" dy="-10">4</tspan></text>
<text transform="translate(356.5,964.8) scale(1,1.075)" font-size="32">10<tspan font-size="19" dy="-10">5</tspan></text>
<text transform="translate(528.6,964.8) scale(1,1.075)" font-size="32">10<tspan font-size="19" dy="-10">6</tspan></text>
<text transform="translate(97.2,664.6) scale(1,1.075)" font-size="32" text-anchor="end">120</text>
<text transform="translate(101.6,757.2) scale(1,1.075)" font-size="32" text-anchor="end">80</text>
<text transform="translate(101.6,849.9) scale(1,1.075)" font-size="32" text-anchor="end">40</text>
<text x="187.3" y="1004.0" font-size="32.5">Loading rate (pN/s)</text>
<text x="244.0" y="592.6" font-size="32"><tspan font-family="'Noto Sans CJK SC', 'Liberation Sans', sans-serif" font-weight="200">Δ</tspan>CH2 YidC</text>
<text x="-1.0" y="578.3" font-size="47.5">c</text>
</g>
<text font-family="'Liberation Sans', sans-serif" font-size="32" transform="translate(43.1,850.2) rotate(-90)">Force (pN)</text>
<line x1="702.6" y1="604.6" x2="702.6" y2="928.0" stroke="#cdcdcd" stroke-width="1" stroke-dasharray="1,1.4"/>
<line x1="719.6" y1="604.6" x2="719.6" y2="928.0" stroke="#cdcdcd" stroke-width="1" stroke-dasharray="1,1.4"/>
<line x1="733.4" y1="604.6" x2="733.4" y2="928.0" stroke="#cdcdcd" stroke-width="1" stroke-dasharray="1,1.4"/>
<line x1="745.2" y1="604.6" x2="745.2" y2="928.0" stroke="#cdcdcd" stroke-width="1" stroke-dasharray="1,1.4"/>
<line x1="755.3" y1="604.6" x2="755.3" y2="928.0" stroke="#cdcdcd" stroke-width="1" stroke-dasharray="1,1.4"/>
<line x1="764.3" y1="604.6" x2="764.3" y2="928.0" stroke="#cdcdcd" stroke-width="1" stroke-dasharray="1,1.4"/>
<line x1="772.3" y1="604.6" x2="772.3" y2="928.0" stroke="#e3e3e3" stroke-width="1.2"/>
<line x1="825.0" y1="604.6" x2="825.0" y2="928.0" stroke="#cdcdcd" stroke-width="1" stroke-dasharray="1,1.4"/>
<line x1="855.9" y1="604.6" x2="855.9" y2="928.0" stroke="#cdcdcd" stroke-width="1" stroke-dasharray="1,1.4"/>
<line x1="877.8" y1="604.6" x2="877.8" y2="928.0" stroke="#cdcdcd" stroke-width="1" stroke-dasharray="1,1.4"/>
<line x1="894.8" y1="604.6" x2="894.8" y2="928.0" stroke="#cdcdcd" stroke-width="1" stroke-dasharray="1,1.4"/>
<line x1="908.6" y1="604.6" x2="908.6" y2="928.0" stroke="#cdcdcd" stroke-width="1" stroke-dasharray="1,1.4"/>
<line x1="920.4" y1="604.6" x2="920.4" y2="928.0" stroke="#cdcdcd" stroke-width="1" stroke-dasharray="1,1.4"/>
<line x1="930.5" y1="604.6" x2="930.5" y2="928.0" stroke="#cdcdcd" stroke-width="1" stroke-dasharray="1,1.4"/>
<line x1="939.5" y1="604.6" x2="939.5" y2="928.0" stroke="#cdcdcd" stroke-width="1" stroke-dasharray="1,1.4"/>
<line x1="947.5" y1="604.6" x2="947.5" y2="928.0" stroke="#e3e3e3" stroke-width="1.2"/>
<line x1="1000.2" y1="604.6" x2="1000.2" y2="928.0" stroke="#cdcdcd" stroke-width="1" stroke-dasharray="1,1.4"/>
<line x1="1031.1" y1="604.6" x2="1031.1" y2="928.0" stroke="#cdcdcd" stroke-width="1" stroke-dasharray="1,1.4"/>
<line x1="1053.0" y1="604.6" x2="1053.0" y2="928.0" stroke="#cdcdcd" stroke-width="1" stroke-dasharray="1,1.4"/>
<line x1="1070.0" y1="604.6" x2="1070.0" y2="928.0" stroke="#cdcdcd" stroke-width="1" stroke-dasharray="1,1.4"/>
<line x1="1083.8" y1="604.6" x2="1083.8" y2="928.0" stroke="#cdcdcd" stroke-width="1" stroke-dasharray="1,1.4"/>
<line x1="1095.6" y1="604.6" x2="1095.6" y2="928.0" stroke="#cdcdcd" stroke-width="1" stroke-dasharray="1,1.4"/>
<line x1="1105.7" y1="604.6" x2="1105.7" y2="928.0" stroke="#cdcdcd" stroke-width="1" stroke-dasharray="1,1.4"/>
<line x1="1114.7" y1="604.6" x2="1114.7" y2="928.0" stroke="#cdcdcd" stroke-width="1" stroke-dasharray="1,1.4"/>
<line x1="680.9" y1="881.7" x2="1122.7" y2="881.7" stroke="#e9e9e9" stroke-width="1.1"/>
<line x1="680.9" y1="835.4" x2="1122.7" y2="835.4" stroke="#e9e9e9" stroke-width="1.1"/>
<line x1="680.9" y1="789.0" x2="1122.7" y2="789.0" stroke="#e9e9e9" stroke-width="1.1"/>
<line x1="680.9" y1="742.7" x2="1122.7" y2="742.7" stroke="#e9e9e9" stroke-width="1.1"/>
<line x1="680.9" y1="696.4" x2="1122.7" y2="696.4" stroke="#e9e9e9" stroke-width="1.1"/>
<line x1="680.9" y1="650.1" x2="1122.7" y2="650.1" stroke="#e9e9e9" stroke-width="1.1"/>
<circle cx="734.8" cy="873.3" r="7.8" fill="#000"/><circle cx="789.3" cy="877.5" r="7.8" fill="#000"/><circle cx="853.2" cy="873.1" r="7.8" fill="#000"/><circle cx="944.2" cy="866.2" r="7.8" fill="#000"/><circle cx="989.4" cy="863.2" r="7.8" fill="#000"/>
<line x1="680.8" y1="879.8" x2="994.8" y2="863.8" stroke="#ff0000" stroke-width="6.5" stroke-dasharray="12,12"/>
<g fill="#0072BD" fill-opacity="0.5" stroke="#0072BD" stroke-opacity="0.55" stroke-width="1.05"><circle cx="763.0" cy="712.4" r="2.3"/><circle cx="785.4" cy="789.0" r="2.3"/><circle cx="769.0" cy="792.7" r="2.3"/><circle cx="735.3" cy="814.5" r="2.3"/><circle cx="773.4" cy="815.0" r="2.3"/><circle cx="800.2" cy="816.4" r="2.3"/><circle cx="691.9" cy="828.2" r="2.3"/><circle cx="786.8" cy="825.4" r="2.3"/><circle cx="741.8" cy="836.7" r="2.3"/><circle cx="685.6" cy="853.0" r="2.3"/><circle cx="794.4" cy="849.7" r="2.3"/><circle cx="823.6" cy="847.9" r="2.3"/><circle cx="772.8" cy="856.2" r="2.3"/><circle cx="716.8" cy="862.7" r="2.3"/><circle cx="720.1" cy="861.5" r="2.3"/><circle cx="733.4" cy="865.0" r="2.3"/><circle cx="737.8" cy="864.3" r="2.3"/><circle cx="702.0" cy="870.3" r="2.3"/><circle cx="680.5" cy="871.7" r="2.3"/><circle cx="776.3" cy="871.7" r="2.3"/><circle cx="812.6" cy="858.5" r="2.3"/><circle cx="728.7" cy="875.9" r="2.3"/><circle cx="752.7" cy="879.4" r="2.3"/><circle cx="764.2" cy="878.7" r="2.3"/><circle cx="704.8" cy="885.4" r="2.3"/><circle cx="684.3" cy="887.5" r="2.3"/><circle cx="712.4" cy="892.6" r="2.3"/><circle cx="730.6" cy="893.7" r="2.3"/><circle cx="745.1" cy="886.8" r="2.3"/><circle cx="746.7" cy="885.4" r="2.3"/><circle cx="768.3" cy="887.5" r="2.3"/><circle cx="771.1" cy="888.2" r="2.3"/><circle cx="759.7" cy="897.0" r="2.3"/><circle cx="811.7" cy="890.0" r="2.3"/><circle cx="855.0" cy="814.7" r="2.3"/><circle cx="903.3" cy="839.3" r="2.3"/><circle cx="885.1" cy="887.0" r="2.3"/></g>
<g fill="#D95319" fill-opacity="0.5" stroke="#D95319" stroke-opacity="0.55" stroke-width="1.05"><circle cx="842.2" cy="726.7" r="2.3"/><circle cx="795.4" cy="762.4" r="2.3"/><circle cx="790.3" cy="822.4" r="2.3"/><circle cx="741.5" cy="826.3" r="2.3"/><circle cx="747.1" cy="827.9" r="2.3"/><circle cx="804.7" cy="826.8" r="2.3"/><circle cx="822.6" cy="830.5" r="2.3"/><circle cx="797.2" cy="837.0" r="2.3"/><circle cx="810.3" cy="841.4" r="2.3"/><circle cx="818.4" cy="838.6" r="2.3"/><circle cx="813.3" cy="847.2" r="2.3"/><circle cx="720.1" cy="848.6" r="2.3"/><circle cx="720.8" cy="848.3" r="2.3"/><circle cx="754.6" cy="846.9" r="2.3"/><circle cx="815.0" cy="855.5" r="2.3"/><circle cx="802.6" cy="857.4" r="2.3"/><circle cx="798.1" cy="861.3" r="2.3"/><circle cx="819.4" cy="865.2" r="2.3"/><circle cx="709.9" cy="866.4" r="2.3"/><circle cx="721.3" cy="869.2" r="2.3"/><circle cx="749.3" cy="867.3" r="2.3"/><circle cx="698.9" cy="873.6" r="2.3"/><circle cx="788.6" cy="867.1" r="2.3"/><circle cx="767.0" cy="873.1" r="2.3"/><circle cx="751.3" cy="878.0" r="2.3"/><circle cx="772.8" cy="884.7" r="2.3"/><circle cx="711.3" cy="888.2" r="2.3"/><circle cx="724.8" cy="891.4" r="2.3"/><circle cx="731.7" cy="892.3" r="2.3"/><circle cx="800.9" cy="881.0" r="2.3"/><circle cx="815.9" cy="880.3" r="2.3"/><circle cx="876.4" cy="817.3" r="2.3"/><circle cx="846.1" cy="830.5" r="2.3"/><circle cx="838.9" cy="839.5" r="2.3"/><circle cx="837.5" cy="847.6" r="2.3"/><circle cx="841.7" cy="848.3" r="2.3"/><circle cx="842.2" cy="854.1" r="2.3"/><circle cx="866.6" cy="870.3" r="2.3"/><circle cx="891.1" cy="874.3" r="2.3"/><circle cx="886.0" cy="878.2" r="2.3"/><circle cx="893.7" cy="880.8" r="2.3"/><circle cx="912.8" cy="877.3" r="2.3"/><circle cx="921.7" cy="870.3" r="2.3"/><circle cx="840.6" cy="885.4" r="2.3"/><circle cx="834.5" cy="887.5" r="2.3"/><circle cx="848.5" cy="884.9" r="2.3"/><circle cx="846.6" cy="888.6" r="2.3"/><circle cx="855.0" cy="889.8" r="2.3"/><circle cx="858.1" cy="891.6" r="2.3"/><circle cx="906.9" cy="884.0" r="2.3"/><circle cx="925.2" cy="893.3" r="2.3"/><circle cx="888.3" cy="879.6" r="2.3"/></g>
<g fill="#EDB120" fill-opacity="0.5" stroke="#EDB120" stroke-opacity="0.55" stroke-width="1.05"><circle cx="918.6" cy="721.9" r="2.3"/><circle cx="946.1" cy="744.6" r="2.3"/><circle cx="894.8" cy="757.8" r="2.3"/><circle cx="984.1" cy="756.6" r="2.3"/><circle cx="823.1" cy="826.6" r="2.3"/><circle cx="793.7" cy="834.7" r="2.3"/><circle cx="693.5" cy="871.5" r="2.3"/><circle cx="810.5" cy="858.5" r="2.3"/><circle cx="785.4" cy="871.3" r="2.3"/><circle cx="791.9" cy="864.8" r="2.3"/><circle cx="809.6" cy="880.3" r="2.3"/><circle cx="826.1" cy="865.2" r="2.3"/><circle cx="826.1" cy="884.9" r="2.3"/><circle cx="767.7" cy="875.4" r="2.3"/><circle cx="761.3" cy="876.4" r="2.3"/><circle cx="697.7" cy="870.6" r="2.3"/><circle cx="718.9" cy="870.3" r="2.3"/><circle cx="737.3" cy="873.8" r="2.3"/><circle cx="808.9" cy="863.8" r="2.3"/><circle cx="764.8" cy="882.1" r="2.3"/><circle cx="789.8" cy="879.4" r="2.3"/><circle cx="793.7" cy="886.1" r="2.3"/><circle cx="884.3" cy="813.8" r="2.3"/><circle cx="862.7" cy="825.9" r="2.3"/><circle cx="894.1" cy="826.6" r="2.3"/><circle cx="894.8" cy="834.2" r="2.3"/><circle cx="924.2" cy="825.2" r="2.3"/><circle cx="932.4" cy="834.9" r="2.3"/><circle cx="940.0" cy="842.5" r="2.3"/><circle cx="946.1" cy="846.7" r="2.3"/><circle cx="930.5" cy="845.6" r="2.3"/><circle cx="924.5" cy="853.0" r="2.3"/><circle cx="931.2" cy="851.6" r="2.3"/><circle cx="925.6" cy="859.2" r="2.3"/><circle cx="849.4" cy="850.9" r="2.3"/><circle cx="858.0" cy="851.8" r="2.3"/><circle cx="885.8" cy="849.5" r="2.3"/><circle cx="883.6" cy="856.7" r="2.3"/><circle cx="887.6" cy="856.2" r="2.3"/><circle cx="895.8" cy="863.2" r="2.3"/><circle cx="901.6" cy="861.8" r="2.3"/><circle cx="907.2" cy="862.2" r="2.3"/><circle cx="826.6" cy="865.7" r="2.3"/><circle cx="838.9" cy="865.9" r="2.3"/><circle cx="856.7" cy="865.2" r="2.3"/><circle cx="866.0" cy="864.8" r="2.3"/><circle cx="888.8" cy="869.2" r="2.3"/><circle cx="836.9" cy="878.0" r="2.3"/><circle cx="859.7" cy="882.4" r="2.3"/><circle cx="826.8" cy="885.4" r="2.3"/><circle cx="904.4" cy="884.0" r="2.3"/><circle cx="910.4" cy="888.9" r="2.3"/><circle cx="914.9" cy="875.2" r="2.3"/><circle cx="917.0" cy="879.6" r="2.3"/><circle cx="919.3" cy="879.1" r="2.3"/><circle cx="924.7" cy="884.0" r="2.3"/><circle cx="928.2" cy="884.2" r="2.3"/><circle cx="940.7" cy="876.4" r="2.3"/><circle cx="957.1" cy="872.4" r="2.3"/><circle cx="958.0" cy="868.9" r="2.3"/><circle cx="960.1" cy="857.4" r="2.3"/><circle cx="957.1" cy="831.4" r="2.3"/><circle cx="970.1" cy="803.6" r="2.3"/><circle cx="968.5" cy="810.1" r="2.3"/><circle cx="972.7" cy="845.6" r="2.3"/><circle cx="961.5" cy="889.1" r="2.3"/><circle cx="964.8" cy="888.6" r="2.3"/><circle cx="836.8" cy="842.1" r="2.3"/><circle cx="855.3" cy="880.1" r="2.3"/><circle cx="974.0" cy="845.3" r="2.3"/><circle cx="999.9" cy="879.6" r="2.3"/><circle cx="1002.3" cy="884.2" r="2.3"/><circle cx="997.6" cy="890.0" r="2.3"/></g>
<g fill="#7E2F8E" fill-opacity="0.5" stroke="#7E2F8E" stroke-opacity="0.55" stroke-width="1.05"><circle cx="1033.5" cy="655.4" r="2.3"/><circle cx="1010.2" cy="739.2" r="2.3"/><circle cx="886.5" cy="805.3" r="2.3"/><circle cx="894.4" cy="810.3" r="2.3"/><circle cx="902.6" cy="834.0" r="2.3"/><circle cx="903.9" cy="855.5" r="2.3"/><circle cx="909.8" cy="856.7" r="2.3"/><circle cx="905.1" cy="876.8" r="2.3"/><circle cx="889.2" cy="886.8" r="2.3"/><circle cx="922.4" cy="890.7" r="2.3"/><circle cx="931.4" cy="877.7" r="2.3"/><circle cx="934.5" cy="865.0" r="2.3"/><circle cx="950.1" cy="875.0" r="2.3"/><circle cx="938.2" cy="871.3" r="2.3"/><circle cx="947.3" cy="790.9" r="2.3"/><circle cx="964.5" cy="835.8" r="2.3"/><circle cx="967.5" cy="838.1" r="2.3"/><circle cx="960.8" cy="850.2" r="2.3"/><circle cx="970.3" cy="855.7" r="2.3"/><circle cx="966.9" cy="863.2" r="2.3"/><circle cx="964.7" cy="891.2" r="2.3"/><circle cx="875.0" cy="875.4" r="2.3"/><circle cx="879.3" cy="874.5" r="2.3"/><circle cx="990.6" cy="789.3" r="2.3"/><circle cx="1031.8" cy="790.2" r="2.3"/><circle cx="1029.7" cy="809.2" r="2.3"/><circle cx="1057.5" cy="812.7" r="2.3"/><circle cx="1013.9" cy="818.0" r="2.3"/><circle cx="995.9" cy="847.6" r="2.3"/><circle cx="987.6" cy="855.7" r="2.3"/><circle cx="997.8" cy="856.4" r="2.3"/><circle cx="1012.3" cy="867.3" r="2.3"/><circle cx="1021.8" cy="880.3" r="2.3"/><circle cx="979.2" cy="868.5" r="2.3"/></g>
<g fill="#77AC30" fill-opacity="0.5" stroke="#77AC30" stroke-opacity="0.55" stroke-width="1.05"><circle cx="1028.1" cy="608.4" r="2.3"/><circle cx="1028.8" cy="663.7" r="2.3"/><circle cx="1030.2" cy="699.9" r="2.3"/><circle cx="973.6" cy="702.2" r="2.3"/><circle cx="971.2" cy="725.4" r="2.3"/><circle cx="992.0" cy="736.9" r="2.3"/><circle cx="1068.2" cy="738.1" r="2.3"/><circle cx="1073.6" cy="744.1" r="2.3"/><circle cx="1094.1" cy="736.0" r="2.3"/><circle cx="1115.3" cy="722.8" r="2.3"/><circle cx="1054.7" cy="750.4" r="2.3"/><circle cx="886.2" cy="763.8" r="2.3"/><circle cx="987.6" cy="777.5" r="2.3"/><circle cx="1025.5" cy="782.3" r="2.3"/><circle cx="1108.7" cy="780.7" r="2.3"/><circle cx="1106.2" cy="784.9" r="2.3"/><circle cx="817.0" cy="859.7" r="2.3"/><circle cx="803.3" cy="830.3" r="2.3"/><circle cx="940.7" cy="795.8" r="2.3"/><circle cx="931.2" cy="824.2" r="2.3"/><circle cx="949.3" cy="833.3" r="2.3"/><circle cx="954.3" cy="832.3" r="2.3"/><circle cx="962.4" cy="840.7" r="2.3"/><circle cx="837.8" cy="846.2" r="2.3"/><circle cx="835.2" cy="875.9" r="2.3"/><circle cx="845.5" cy="892.3" r="2.3"/><circle cx="856.0" cy="885.2" r="2.3"/><circle cx="866.4" cy="880.3" r="2.3"/><circle cx="880.0" cy="871.3" r="2.3"/><circle cx="946.4" cy="862.9" r="2.3"/><circle cx="940.8" cy="869.2" r="2.3"/><circle cx="945.2" cy="869.9" r="2.3"/><circle cx="970.6" cy="865.2" r="2.3"/><circle cx="1055.2" cy="789.5" r="2.3"/><circle cx="1075.0" cy="790.7" r="2.3"/><circle cx="1079.4" cy="796.2" r="2.3"/><circle cx="1015.8" cy="799.5" r="2.3"/><circle cx="980.1" cy="811.3" r="2.3"/><circle cx="998.0" cy="820.1" r="2.3"/><circle cx="987.6" cy="826.6" r="2.3"/><circle cx="1008.8" cy="826.6" r="2.3"/><circle cx="998.7" cy="832.3" r="2.3"/><circle cx="1072.9" cy="809.4" r="2.3"/><circle cx="1053.5" cy="816.1" r="2.3"/><circle cx="1044.2" cy="824.9" r="2.3"/><circle cx="1036.5" cy="830.3" r="2.3"/><circle cx="1040.5" cy="829.8" r="2.3"/><circle cx="1047.7" cy="836.1" r="2.3"/><circle cx="1085.4" cy="837.4" r="2.3"/><circle cx="1101.7" cy="842.8" r="2.3"/><circle cx="1036.9" cy="842.3" r="2.3"/><circle cx="1023.4" cy="849.3" r="2.3"/><circle cx="1006.0" cy="851.8" r="2.3"/><circle cx="1010.4" cy="853.9" r="2.3"/><circle cx="1000.9" cy="857.6" r="2.3"/><circle cx="977.8" cy="857.8" r="2.3"/><circle cx="1039.3" cy="858.5" r="2.3"/><circle cx="1053.5" cy="858.5" r="2.3"/><circle cx="1065.8" cy="860.4" r="2.3"/><circle cx="1074.0" cy="865.5" r="2.3"/><circle cx="1025.5" cy="867.3" r="2.3"/><circle cx="1038.4" cy="866.9" r="2.3"/><circle cx="1015.8" cy="868.5" r="2.3"/><circle cx="1010.4" cy="871.3" r="2.3"/><circle cx="995.0" cy="873.8" r="2.3"/><circle cx="988.7" cy="875.2" r="2.3"/><circle cx="984.5" cy="878.7" r="2.3"/><circle cx="1006.7" cy="878.7" r="2.3"/><circle cx="1013.7" cy="879.8" r="2.3"/><circle cx="1070.5" cy="880.8" r="2.3"/><circle cx="1085.7" cy="880.1" r="2.3"/><circle cx="1119.2" cy="884.5" r="2.3"/><circle cx="978.9" cy="866.2" r="2.3"/></g>
<line x1="680.9" y1="601.1" x2="680.9" y2="930.1" stroke="#262626" stroke-width="4.6"/>
<line x1="678.6" y1="928.0" x2="1124.7" y2="928.0" stroke="#262626" stroke-width="4.3"/>
<line x1="680.9" y1="881.7" x2="687.3" y2="881.7" stroke="#262626" stroke-width="4.2"/>
<line x1="680.9" y1="835.4" x2="687.3" y2="835.4" stroke="#262626" stroke-width="4.2"/>
<line x1="680.9" y1="789.0" x2="687.3" y2="789.0" stroke="#262626" stroke-width="4.2"/>
<line x1="680.9" y1="742.7" x2="687.3" y2="742.7" stroke="#262626" stroke-width="4.2"/>
<line x1="680.9" y1="696.4" x2="687.3" y2="696.4" stroke="#262626" stroke-width="4.2"/>
<line x1="680.9" y1="650.1" x2="687.3" y2="650.1" stroke="#262626" stroke-width="4.2"/>
<line x1="702.6" y1="928.0" x2="702.6" y2="920.1" stroke="#262626" stroke-width="3.8"/>
<line x1="719.6" y1="928.0" x2="719.6" y2="920.1" stroke="#262626" stroke-width="3.8"/>
<line x1="733.4" y1="928.0" x2="733.4" y2="920.1" stroke="#262626" stroke-width="3.8"/>
<line x1="745.2" y1="928.0" x2="745.2" y2="920.1" stroke="#262626" stroke-width="3.8"/>
<line x1="755.3" y1="928.0" x2="755.3" y2="920.1" stroke="#262626" stroke-width="3.8"/>
<line x1="764.3" y1="928.0" x2="764.3" y2="920.1" stroke="#262626" stroke-width="3.8"/>
<line x1="772.3" y1="928.0" x2="772.3" y2="912.7" stroke="#262626" stroke-width="3.8"/>
<line x1="825.0" y1="928.0" x2="825.0" y2="920.1" stroke="#262626" stroke-width="3.8"/>
<line x1="855.9" y1="928.0" x2="855.9" y2="920.1" stroke="#262626" stroke-width="3.8"/>
<line x1="877.8" y1="928.0" x2="877.8" y2="920.1" stroke="#262626" stroke-width="3.8"/>
<line x1="894.8" y1="928.0" x2="894.8" y2="920.1" stroke="#262626" stroke-width="3.8"/>
<line x1="908.6" y1="928.0" x2="908.6" y2="920.1" stroke="#262626" stroke-width="3.8"/>
<line x1="920.4" y1="928.0" x2="920.4" y2="920.1" stroke="#262626" stroke-width="3.8"/>
<line x1="930.5" y1="928.0" x2="930.5" y2="920.1" stroke="#262626" stroke-width="3.8"/>
<line x1="939.5" y1="928.0" x2="939.5" y2="920.1" stroke="#262626" stroke-width="3.8"/>
<line x1="947.5" y1="928.0" x2="947.5" y2="912.7" stroke="#262626" stroke-width="3.8"/>
<line x1="1000.2" y1="928.0" x2="1000.2" y2="920.1" stroke="#262626" stroke-width="3.8"/>
<line x1="1031.1" y1="928.0" x2="1031.1" y2="920.1" stroke="#262626" stroke-width="3.8"/>
<line x1="1053.0" y1="928.0" x2="1053.0" y2="920.1" stroke="#262626" stroke-width="3.8"/>
<line x1="1070.0" y1="928.0" x2="1070.0" y2="920.1" stroke="#262626" stroke-width="3.8"/>
<line x1="1083.8" y1="928.0" x2="1083.8" y2="920.1" stroke="#262626" stroke-width="3.8"/>
<line x1="1095.6" y1="928.0" x2="1095.6" y2="920.1" stroke="#262626" stroke-width="3.8"/>
<line x1="1105.7" y1="928.0" x2="1105.7" y2="920.1" stroke="#262626" stroke-width="3.8"/>
<line x1="1114.7" y1="928.0" x2="1114.7" y2="920.1" stroke="#262626" stroke-width="3.8"/>
<line x1="1122.7" y1="928.0" x2="1122.7" y2="912.7" stroke="#262626" stroke-width="3.8"/>
<g font-family="'Liberation Sans', sans-serif" fill="#000">
<text transform="translate(747.6,963.8) scale(1,1.075)" font-size="32">10<tspan font-size="19" dy="-10">4</tspan></text>
<text transform="translate(925.1,963.8) scale(1,1.075)" font-size="32">10<tspan font-size="19" dy="-10">5</tspan></text>
<text transform="translate(1098.4,963.8) scale(1,1.075)" font-size="32">10<tspan font-size="19" dy="-10">6</tspan></text>
<text transform="translate(663.4,664.6) scale(1,1.075)" font-size="32" text-anchor="end">120</text>
<text transform="translate(667.8,757.2) scale(1,1.075)" font-size="32" text-anchor="end">80</text>
<text transform="translate(667.8,849.9) scale(1,1.075)" font-size="32" text-anchor="end">40</text>
<text x="775.6" y="1003.6" font-size="32.5">Loading rate (pN/s)</text>
<text x="806.1" y="587.8" font-size="32">R366E YidC</text>
<text x="576.4" y="578.3" font-size="47.5">d</text>
</g>
<text font-family="'Liberation Sans', sans-serif" font-size="32" transform="translate(612.4,850.3) rotate(-90)">Force (pN)</text>
<defs><linearGradient id="mem" x1="0" y1="0" x2="0" y2="1"><stop offset="0" stop-color="#fbfbfb"/><stop offset="0.1" stop-color="#e4e4e4"/><stop offset="0.22" stop-color="#bdbdbd"/><stop offset="0.35" stop-color="#9c9c9c"/><stop offset="0.5" stop-color="#858585"/><stop offset="0.6" stop-color="#898989"/><stop offset="0.72" stop-color="#a3a3a3"/><stop offset="0.84" stop-color="#c6c6c6"/><stop offset="0.95" stop-color="#ebebeb"/><stop offset="1" stop-color="#fafafa"/></linearGradient><linearGradient id="cbar" x1="0" y1="0" x2="0" y2="1"><stop offset="0" stop-color="#f7f4fe"/><stop offset="0.12" stop-color="#f1ebfd"/><stop offset="0.25" stop-color="#e3d6fc"/><stop offset="0.4" stop-color="#c9adf9"/><stop offset="0.55" stop-color="#a878f6"/><stop offset="0.7" stop-color="#8a4fe6"/><stop offset="0.85" stop-color="#5a20ac"/><stop offset="1" stop-color="#38156c"/></linearGradient></defs>
<rect x="1229.9" y="818" width="718.7" height="105" fill="url(#mem)"/>
<g stroke="#000" stroke-width="3" stroke-linejoin="round">
<path d="M1271.4,632 C1270.8,622.1 1274.5,606.3 1277.5,598.7 C1280.5,591.1 1283.9,590.9 1289.7,586.5 C1295.5,582.1 1307.8,578 1312.5,572.5 C1317.2,567 1314.8,558.6 1317.7,553.2 C1320.6,547.8 1325.6,542.6 1330,540.1 C1334.4,537.6 1339.9,538.2 1344,538.4 C1348.1,538.5 1351,541.9 1354.5,541 C1358,540.1 1359.8,536.4 1365,533.1 C1370.2,529.9 1376.2,531.2 1386,521.5 C1395.8,511.8 1411.3,486.8 1423.5,475 C1435.7,463.2 1449.8,459.7 1458.9,450.6 C1468,441.5 1468.9,429.7 1478,420.6 C1487.1,411.5 1500.1,404.7 1513.3,396.1 C1526.5,387.5 1547.8,376.1 1556.9,368.9 C1566,361.6 1564,357.1 1567.8,352.6 C1571.6,348.2 1573.4,346.6 1580,342.2 C1586.6,337.8 1599,331.3 1607.2,325.9 C1615.4,320.4 1623.1,314.5 1629,309.5 C1634.9,304.5 1638.8,300 1642.6,295.9 C1646.4,291.8 1650.5,288.6 1652.1,285 C1653.7,281.4 1653.2,277.4 1652.1,274.2 C1651,271 1649.6,269.2 1645.3,266 C1641,262.8 1632.2,259.6 1626.3,255.1 C1620.4,250.6 1613.3,244.7 1609.9,238.8 C1606.5,232.9 1605.9,225.6 1605.9,219.7 C1605.9,213.8 1610.6,208.4 1609.9,203.4 C1609.2,198.4 1603.2,194.3 1601.8,189.8 C1600.4,185.3 1599.5,180.3 1601.8,176.2 C1604.1,172.1 1607.7,169.8 1615.4,165.3 C1623.1,160.8 1636.7,154 1648,149 C1659.3,144 1673.4,139.9 1683.4,135.4 C1693.4,130.9 1701.6,124.1 1707.9,121.8 C1714.2,119.5 1718.1,120.4 1721.5,121.8 C1724.9,123.2 1726.9,124.9 1728.3,129.9 C1729.7,134.9 1729,144.9 1729.7,151.7 C1730.4,158.5 1729.2,164.9 1732.4,170.8 C1735.6,176.7 1741.5,182.6 1748.7,187.1 C1756,191.6 1766.8,193.9 1775.9,198 C1785,202.1 1796.5,206.2 1803.1,211.6 C1809.7,217 1813.6,223.3 1815.4,230.6 C1817.2,237.8 1816,249.2 1814,255.1 C1812,261 1808.5,264 1803.1,266 C1797.7,268 1791.4,267.5 1781.4,267.3 C1771.4,267.1 1754.2,263.9 1743.3,264.6 C1732.4,265.3 1722.4,268 1716.1,271.4 C1709.8,274.8 1708.4,279.1 1705.2,285 C1702,290.9 1701.1,300 1697,306.8 C1692.9,313.6 1684.8,320.4 1680.7,325.9 C1676.6,331.3 1677,333.6 1672.5,339.5 C1668,345.4 1659.6,357 1653.5,361.2 C1647.4,365.4 1643.3,358.5 1635.8,364.8 C1628.3,371.1 1617.7,386.8 1608.6,398.8 C1599.5,410.8 1587.3,427.9 1581.4,437 C1575.5,446.1 1585.5,445.1 1573.2,453.3 C1561,461.5 1526.1,473.5 1507.9,486 C1489.8,498.5 1472.3,518.3 1464.3,528.1 C1456.3,537.9 1461.1,539.1 1460,545 C1458.9,550.9 1457.5,559.4 1457.7,563.7 C1457.9,568 1458,566.3 1461.2,570.7 C1464.4,575.1 1473.7,583.9 1477,590 C1480.3,596.1 1481.4,602.9 1481.3,607.5 C1481.2,612.1 1479.5,615.1 1476.2,617.5 C1472.9,619.9 1464.7,620.1 1461.3,621.9 C1457.9,623.6 1457.4,625.4 1456.1,628 C1454.8,630.6 1455.1,635.4 1453.5,637.6 C1451.9,639.8 1449.3,640.2 1446.5,641.1 C1443.7,642 1439.5,641.6 1436.9,642.9 C1434.3,644.2 1432.6,646.7 1430.7,649 C1428.8,651.3 1427.7,654.8 1425.5,656.8 C1423.3,658.8 1420.8,659.6 1417.6,661.2 C1414.4,662.8 1410.3,664.3 1406.2,666.5 C1402.1,668.7 1397.5,671.8 1393.1,674.3 C1388.7,676.8 1386.4,679.9 1380,681.3 C1373.6,682.7 1362.8,683.2 1354.5,682.7 C1346.2,682.2 1338.5,680 1330,678.3 C1321.5,676.5 1311.9,675.6 1303.7,672.2 C1295.5,668.9 1286.4,664.9 1281,658.2 C1275.6,651.5 1272,641.9 1271.4,632Z" fill="#d4bcfb"/>
<path d="M1316,611 C1316.6,606.6 1315.7,602.7 1319.5,598.7 C1323.3,594.8 1334.9,590.5 1338.7,587.3 C1342.5,584.1 1337.8,583.6 1342.2,579.5 C1346.6,575.4 1359.5,564.6 1365,562.9 C1370.5,561.1 1371.1,566.5 1375.5,569 C1379.9,571.5 1384.2,575.8 1391.2,577.7 C1398.2,579.6 1410.1,578.6 1417.4,580.4 C1424.7,582.1 1430.8,584.3 1435,588.2 C1439.2,592.1 1442.5,599 1442.8,604 C1443.1,609 1440.9,614.5 1436.7,618 C1432.5,621.5 1425.6,622.4 1417.4,625 C1409.2,627.6 1395.6,629.3 1387.7,633.7 C1379.8,638.1 1376.3,646.2 1370.2,651.2 C1364.1,656.2 1357.7,662.2 1351,663.4 C1344.3,664.6 1335.5,661.7 1330,658.2 C1324.5,654.7 1320,648 1317.7,642.5 C1315.4,637 1316.3,630.2 1316,625 C1315.7,619.8 1315.4,615.4 1316,611Z" fill="#a46ef8"/>
<path d="M1340.5,618 C1342.2,614 1346.3,602.9 1351,598.7 C1355.7,594.5 1361.5,593.2 1368.5,592.6 C1375.5,592 1385.7,593 1393,595.2 C1400.3,597.4 1409,602.8 1412.2,605.7 C1415.4,608.6 1415.4,611.1 1412.2,612.7 C1409,614.3 1398.5,613.2 1393,615.3 C1387.5,617.3 1384,621.5 1379,625 C1374,628.5 1368.5,635.1 1363.2,636.3 C1358,637.5 1351.3,634.2 1347.5,632 C1343.7,629.8 1341.7,625.3 1340.5,623 C1339.3,620.7 1338.8,622 1340.5,618Z" fill="#6a2bc6"/>
<path d="M1355.3,615.3 C1356,612.2 1358.1,606 1361.5,604 C1364.9,602 1371.4,602.6 1375.5,603.6 C1379.6,604.6 1386,607.6 1386,610 C1386,612.4 1377.8,615.2 1375.5,618 C1373.2,620.8 1373.8,625 1372,626.7 C1370.2,628.5 1367.5,629.2 1365,628.5 C1362.5,627.8 1358.6,624.5 1357,622.3 C1355.4,620.1 1354.5,618.3 1355.3,615.3Z" fill="#34165c"/>
<path d="M1634.4,181.6 C1636.2,177.1 1639.4,169.4 1645.3,165.3 C1651.2,161.2 1660.7,157.8 1669.8,157.1 C1678.9,156.4 1692.5,159.1 1699.7,161.2 C1707,163.2 1707.8,164.2 1713.3,169.4 C1718.8,174.6 1726.5,185.5 1732.4,192.5 C1738.3,199.5 1742.4,205.7 1748.7,211.6 C1755,217.5 1766.9,222.9 1770.5,227.9 C1774.1,232.9 1775,237.7 1770.5,241.5 C1766,245.3 1752.4,250.1 1743.3,251 C1734.2,251.9 1725.2,249.4 1716.1,246.9 C1707,244.4 1695.6,239.7 1688.8,236.1 C1682,232.5 1677.9,228.8 1675.2,225.2 C1672.5,221.6 1674.8,216.8 1672.5,214.3 C1670.2,211.8 1666.6,212 1661.6,210.2 C1656.6,208.4 1647.1,206.3 1642.6,203.4 C1638.1,200.5 1635.8,196.1 1634.4,192.5 C1633,188.9 1632.6,186.1 1634.4,181.6Z" fill="#a46ef8"/>
<path d="M1679.3,193.9 C1680.2,191.4 1680.9,187.1 1683.4,185.7 C1685.9,184.3 1689.3,184.3 1694.3,185.7 C1699.3,187.1 1709.4,189.1 1713.3,193.9 C1717.2,198.7 1717.4,209.5 1717.4,214.3 C1717.4,219.1 1716.7,221.6 1713.3,222.5 C1709.9,223.4 1702,221.5 1697,219.7 C1692,217.9 1686.6,214.8 1683.4,211.6 C1680.2,208.4 1678.7,203.6 1678,200.7 C1677.3,197.8 1678.4,196.4 1679.3,193.9Z" fill="#6a2bc6"/>
</g>
<line x1="1453.4" y1="511.8" x2="1652" y2="314" stroke="#000" stroke-width="3"/>
<path d="M1664.4,301.4 L1637.1,309.5 L1650.5,314.5 L1657.6,327.2Z" fill="#000"/>
<path d="M1752.8,163.9 C1775,135 1790,116 1846,109.3" fill="none" stroke="#000" stroke-width="3.2"/>
<path d="M1861.6,108.2 L1841.2,100 L1845,109.5 L1844,120.4Z" fill="#000"/>
<path d="M1205.4,60 L1205.8,533 L1206.8,999" fill="none" stroke="#000" stroke-width="3.8"/>
<path d="M1205.3,37.8 Q1198,57 1188.7,67.6 L1205.3,61.9 L1222,67.6 Q1212.6,57 1205.3,37.8Z" fill="#000"/>
<line x1="1204.9" y1="997.4" x2="1876" y2="997.4" stroke="#000" stroke-width="3.4"/>
<path d="M1897.4,997.3 Q1880,990 1868.3,981.5 L1873.5,997.3 L1868.3,1013.7 Q1880,1004.6 1897.4,997.3Z" fill="#000"/>
<rect x="1917.8" y="224.8" width="48.4" height="462.3" fill="url(#cbar)" stroke="#5a5a5a" stroke-width="3.2"/>
<g transform="translate(0.0,0.0)" stroke-linejoin="round"><path d="M1317,832 C1316.8,829 1323.1,825.3 1326,822 C1328.9,818.7 1331,815.2 1334.2,812 C1337.4,808.8 1341.4,806.2 1345,803 C1348.6,799.8 1352.4,796.1 1356,793 C1359.6,789.9 1363,786.3 1366.5,784.4 C1370,782.5 1373.4,781.1 1377.3,781.7 C1381.2,782.3 1387.2,785.5 1390,788 C1392.8,790.5 1394.6,793.1 1394.4,797 C1394.2,800.9 1393.1,807.2 1389,811.4 C1384.9,815.6 1374.3,819.5 1370,822.2 C1365.7,824.9 1366.6,825.5 1363,827.6 C1359.4,829.7 1353.3,832.6 1348.5,834.8 C1343.7,837 1337.6,840.1 1334,841 C1330.4,841.9 1329.8,841.7 1327,840.2 C1324.2,838.7 1317.2,835 1317,832Z" fill="#5a5a5a" stroke="#000" stroke-width="3"/><path d="M1293.7,842 C1294.8,838.7 1297.5,837.1 1300,836.6 C1302.5,836.1 1306.2,840.1 1309,839.3 C1311.8,838.5 1314,831.9 1317,832 C1320,832.1 1324.2,838.7 1327,840.2 C1329.8,841.7 1330.4,841.9 1334,841 C1337.6,840.1 1343.7,837 1348.5,834.8 C1353.3,832.6 1359.4,827.9 1363,827.6 C1366.6,827.3 1368.1,830.3 1370,833 C1371.9,835.7 1374.3,840.5 1374.6,843.8 C1374.9,847.1 1373.2,848.9 1372,852.8 C1370.8,856.7 1368.6,861.3 1367.4,867 C1366.2,872.7 1365.4,880.4 1364.7,887 C1364,893.6 1364.5,902.5 1363,906.7 C1361.5,910.9 1358.1,909.9 1355.7,912 C1353.3,914.1 1350.6,916.6 1348.5,919.3 C1346.4,922 1346,925.9 1343,928.3 C1340,930.7 1334.8,932.4 1330.6,933.7 C1326.4,935.1 1321,934.9 1318,936.4 C1315,937.9 1314.4,941.2 1312.6,942.7 C1310.8,944.2 1309.5,945.4 1307.2,945.4 C1304.9,945.4 1300.8,944.4 1299,942.7 C1297.2,941.1 1296.5,938.5 1296.4,935.5 C1296.3,932.5 1299.1,926.5 1298.2,924.7 C1297.3,922.9 1293.7,924.4 1291,924.7 C1288.3,925 1285.3,927 1282,926.5 C1278.7,926 1273.9,924.1 1271.2,922 C1268.5,919.9 1265.8,916.5 1265.8,914 C1265.8,911.5 1267.9,908.7 1271.2,906.7 C1274.5,904.7 1282.3,904 1285.6,902.2 C1288.9,900.4 1289.8,900 1291,896 C1292.2,892 1292.3,884.6 1292.8,878 C1293.2,871.4 1293.5,862.4 1293.7,856.4 C1293.9,850.4 1292.7,845.3 1293.7,842Z" fill="#7661ef" stroke="#000" stroke-width="3"/></g>
<g transform="translate(263.0,-0.8)" stroke-linejoin="round"><path d="M1317,832 C1316.8,829 1323.1,825.3 1326,822 C1328.9,818.7 1331,815.2 1334.2,812 C1337.4,808.8 1341.4,806.2 1345,803 C1348.6,799.8 1352.4,796.1 1356,793 C1359.6,789.9 1363,786.3 1366.5,784.4 C1370,782.5 1373.4,781.1 1377.3,781.7 C1381.2,782.3 1387.2,785.5 1390,788 C1392.8,790.5 1394.6,793.1 1394.4,797 C1394.2,800.9 1393.1,807.2 1389,811.4 C1384.9,815.6 1374.3,819.5 1370,822.2 C1365.7,824.9 1366.6,825.5 1363,827.6 C1359.4,829.7 1353.3,832.6 1348.5,834.8 C1343.7,837 1337.6,840.1 1334,841 C1330.4,841.9 1329.8,841.7 1327,840.2 C1324.2,838.7 1317.2,835 1317,832Z" fill="#5a5a5a" stroke="#000" stroke-width="3"/><path d="M1293.7,842 C1294.8,838.7 1297.5,837.1 1300,836.6 C1302.5,836.1 1306.2,840.1 1309,839.3 C1311.8,838.5 1314,831.9 1317,832 C1320,832.1 1324.2,838.7 1327,840.2 C1329.8,841.7 1330.4,841.9 1334,841 C1337.6,840.1 1343.7,837 1348.5,834.8 C1353.3,832.6 1359.4,827.9 1363,827.6 C1366.6,827.3 1368.1,830.3 1370,833 C1371.9,835.7 1374.3,840.5 1374.6,843.8 C1374.9,847.1 1373.2,848.9 1372,852.8 C1370.8,856.7 1368.6,861.3 1367.4,867 C1366.2,872.7 1365.4,880.4 1364.7,887 C1364,893.6 1364.5,902.5 1363,906.7 C1361.5,910.9 1358.1,909.9 1355.7,912 C1353.3,914.1 1350.6,916.6 1348.5,919.3 C1346.4,922 1346,925.9 1343,928.3 C1340,930.7 1334.8,932.4 1330.6,933.7 C1326.4,935.1 1321,934.9 1318,936.4 C1315,937.9 1314.4,941.2 1312.6,942.7 C1310.8,944.2 1309.5,945.4 1307.2,945.4 C1304.9,945.4 1300.8,944.4 1299,942.7 C1297.2,941.1 1296.5,938.5 1296.4,935.5 C1296.3,932.5 1299.1,926.5 1298.2,924.7 C1297.3,922.9 1293.7,924.4 1291,924.7 C1288.3,925 1285.3,927 1282,926.5 C1278.7,926 1273.9,924.1 1271.2,922 C1268.5,919.9 1265.8,916.5 1265.8,914 C1265.8,911.5 1267.9,908.7 1271.2,906.7 C1274.5,904.7 1282.3,904 1285.6,902.2 C1288.9,900.4 1289.8,900 1291,896 C1292.2,892 1292.3,884.6 1292.8,878 C1293.2,871.4 1293.5,862.4 1293.7,856.4 C1293.9,850.4 1292.7,845.3 1293.7,842Z" fill="#7661ef" stroke="#000" stroke-width="3"/></g>
<g transform="translate(484.8,0.0)" stroke-linejoin="round"><path d="M1317,832 C1316.8,829 1323.1,825.3 1326,822 C1328.9,818.7 1331,815.2 1334.2,812 C1337.4,808.8 1341.4,806.2 1345,803 C1348.6,799.8 1352.4,796.1 1356,793 C1359.6,789.9 1363,786.3 1366.5,784.4 C1370,782.5 1373.4,781.1 1377.3,781.7 C1381.2,782.3 1387.2,785.5 1390,788 C1392.8,790.5 1394.6,793.1 1394.4,797 C1394.2,800.9 1393.1,807.2 1389,811.4 C1384.9,815.6 1374.3,819.5 1370,822.2 C1365.7,824.9 1366.6,825.5 1363,827.6 C1359.4,829.7 1353.3,832.6 1348.5,834.8 C1343.7,837 1337.6,840.1 1334,841 C1330.4,841.9 1329.8,841.7 1327,840.2 C1324.2,838.7 1317.2,835 1317,832Z" fill="#5a5a5a" stroke="#000" stroke-width="3"/><path d="M1293.7,842 C1294.8,838.7 1297.5,837.1 1300,836.6 C1302.5,836.1 1306.2,840.1 1309,839.3 C1311.8,838.5 1314,831.9 1317,832 C1320,832.1 1324.2,838.7 1327,840.2 C1329.8,841.7 1330.4,841.9 1334,841 C1337.6,840.1 1343.7,837 1348.5,834.8 C1353.3,832.6 1359.4,827.9 1363,827.6 C1366.6,827.3 1368.1,830.3 1370,833 C1371.9,835.7 1374.3,840.5 1374.6,843.8 C1374.9,847.1 1373.2,848.9 1372,852.8 C1370.8,856.7 1368.6,861.3 1367.4,867 C1366.2,872.7 1365.4,880.4 1364.7,887 C1364,893.6 1364.5,902.5 1363,906.7 C1361.5,910.9 1358.1,909.9 1355.7,912 C1353.3,914.1 1350.6,916.6 1348.5,919.3 C1346.4,922 1346,925.9 1343,928.3 C1340,930.7 1334.8,932.4 1330.6,933.7 C1326.4,935.1 1321,934.9 1318,936.4 C1315,937.9 1314.4,941.2 1312.6,942.7 C1310.8,944.2 1309.5,945.4 1307.2,945.4 C1304.9,945.4 1300.8,944.4 1299,942.7 C1297.2,941.1 1296.5,938.5 1296.4,935.5 C1296.3,932.5 1299.1,926.5 1298.2,924.7 C1297.3,922.9 1293.7,924.4 1291,924.7 C1288.3,925 1285.3,927 1282,926.5 C1278.7,926 1273.9,924.1 1271.2,922 C1268.5,919.9 1265.8,916.5 1265.8,914 C1265.8,911.5 1267.9,908.7 1271.2,906.7 C1274.5,904.7 1282.3,904 1285.6,902.2 C1288.9,900.4 1289.8,900 1291,896 C1292.2,892 1292.3,884.6 1292.8,878 C1293.2,871.4 1293.5,862.4 1293.7,856.4 C1293.9,850.4 1292.7,845.3 1293.7,842Z" fill="#7661ef" stroke="#000" stroke-width="3"/></g>
<defs><linearGradient id="og1" x1="0" y1="0" x2="0" y2="1"><stop offset="0" stop-color="#f7a52a"/><stop offset="0.55" stop-color="#f0a035"/><stop offset="1" stop-color="#a8743e"/></linearGradient><linearGradient id="og2" x1="0" y1="1" x2="0" y2="0"><stop offset="0" stop-color="#f7a52a"/><stop offset="0.55" stop-color="#f0a035"/><stop offset="1" stop-color="#a8743e"/></linearGradient><linearGradient id="pg1" x1="0" y1="0" x2="0" y2="1"><stop offset="0" stop-color="#7c1d78"/><stop offset="0.5" stop-color="#c873bb"/><stop offset="1" stop-color="#b44aa6"/></linearGradient><linearGradient id="pg2" x1="0" y1="1" x2="0" y2="0"><stop offset="0" stop-color="#7c1d78"/><stop offset="0.5" stop-color="#c873bb"/><stop offset="1" stop-color="#b44aa6"/></linearGradient></defs>
<path transform="translate(1396.83,808.70) rotate(-12.39)" d="M-4.18,-6.90 L1.11,-6.90 L4.46,6.90 L-0.70,6.90 Z" fill="url(#pg1)"/><path transform="translate(1410.33,805.27) rotate(-15.98)" d="M-4.18,-6.90 L1.11,-6.90 L4.46,6.90 L-0.70,6.90 Z" fill="url(#pg1)"/><path transform="translate(1423.62,801.08) rotate(-19.04)" d="M-4.18,-6.90 L1.11,-6.90 L4.46,6.90 L-0.70,6.90 Z" fill="url(#pg1)"/><path transform="translate(1436.68,796.22) rotate(-21.69)" d="M-4.18,-6.90 L1.11,-6.90 L4.46,6.90 L-0.70,6.90 Z" fill="url(#pg1)"/><path transform="translate(1449.52,790.81) rotate(-23.98)" d="M-4.18,-6.90 L1.11,-6.90 L4.46,6.90 L-0.70,6.90 Z" fill="url(#pg1)"/><path transform="translate(1462.14,784.92) rotate(-26.01)" d="M-4.18,-6.90 L1.11,-6.90 L4.46,6.90 L-0.70,6.90 Z" fill="url(#pg1)"/><path transform="translate(1390.27,810.03) rotate(-10.50)" d="M-5.85,6.90 L1.81,6.90 L5.99,-6.90 L-1.67,-6.90 Z" fill="url(#og1)"/><path transform="translate(1403.87,807.02) rotate(-14.34)" d="M-5.85,6.90 L1.81,6.90 L5.99,-6.90 L-1.67,-6.90 Z" fill="url(#og1)"/><path transform="translate(1417.27,803.18) rotate(-17.60)" d="M-5.85,6.90 L1.81,6.90 L5.99,-6.90 L-1.67,-6.90 Z" fill="url(#og1)"/><path transform="translate(1430.43,798.63) rotate(-20.46)" d="M-5.85,6.90 L1.81,6.90 L5.99,-6.90 L-1.67,-6.90 Z" fill="url(#og1)"/><path transform="translate(1443.38,793.47) rotate(-22.90)" d="M-5.85,6.90 L1.81,6.90 L5.99,-6.90 L-1.67,-6.90 Z" fill="url(#og1)"/><path transform="translate(1456.11,787.80) rotate(-25.05)" d="M-5.85,6.90 L1.81,6.90 L5.99,-6.90 L-1.67,-6.90 Z" fill="url(#og1)"/>
<path transform="translate(1609.27,873.54) rotate(-56.07)" d="M-4.04,6.90 L1.08,6.90 L4.31,-6.90 L-0.67,-6.90 Z" fill="url(#pg2)"/><path transform="translate(1616.79,862.36) rotate(-56.07)" d="M-4.04,6.90 L1.08,6.90 L4.31,-6.90 L-0.67,-6.90 Z" fill="url(#pg2)"/><path transform="translate(1624.31,851.18) rotate(-56.07)" d="M-4.04,6.90 L1.08,6.90 L4.31,-6.90 L-0.67,-6.90 Z" fill="url(#pg2)"/><path transform="translate(1631.83,840.00) rotate(-56.07)" d="M-4.04,6.90 L1.08,6.90 L4.31,-6.90 L-0.67,-6.90 Z" fill="url(#pg2)"/><path transform="translate(1639.34,828.83) rotate(-56.07)" d="M-4.04,6.90 L1.08,6.90 L4.31,-6.90 L-0.67,-6.90 Z" fill="url(#pg2)"/><path transform="translate(1646.86,817.65) rotate(-56.07)" d="M-4.04,6.90 L1.08,6.90 L4.31,-6.90 L-0.67,-6.90 Z" fill="url(#pg2)"/><path transform="translate(1605.66,878.91) rotate(-56.07)" d="M-5.66,-6.90 L1.75,-6.90 L5.79,6.90 L-1.62,6.90 Z" fill="url(#og2)"/><path transform="translate(1613.18,867.73) rotate(-56.07)" d="M-5.66,-6.90 L1.75,-6.90 L5.79,6.90 L-1.62,6.90 Z" fill="url(#og2)"/><path transform="translate(1620.70,856.55) rotate(-56.07)" d="M-5.66,-6.90 L1.75,-6.90 L5.79,6.90 L-1.62,6.90 Z" fill="url(#og2)"/><path transform="translate(1628.22,845.37) rotate(-56.07)" d="M-5.66,-6.90 L1.75,-6.90 L5.79,6.90 L-1.62,6.90 Z" fill="url(#og2)"/><path transform="translate(1635.74,834.19) rotate(-56.07)" d="M-5.66,-6.90 L1.75,-6.90 L5.79,6.90 L-1.62,6.90 Z" fill="url(#og2)"/><path transform="translate(1643.26,823.01) rotate(-56.07)" d="M-5.66,-6.90 L1.75,-6.90 L5.79,6.90 L-1.62,6.90 Z" fill="url(#og2)"/>
<path transform="translate(1867.00,901.63) rotate(-90.00)" d="M-4.02,6.90 L1.07,6.90 L4.29,-6.90 L-0.67,-6.90 Z" fill="url(#pg2)"/><path transform="translate(1867.00,888.22) rotate(-90.00)" d="M-4.02,6.90 L1.07,6.90 L4.29,-6.90 L-0.67,-6.90 Z" fill="url(#pg2)"/><path transform="translate(1867.00,874.81) rotate(-90.00)" d="M-4.02,6.90 L1.07,6.90 L4.29,-6.90 L-0.67,-6.90 Z" fill="url(#pg2)"/><path transform="translate(1867.00,861.40) rotate(-90.00)" d="M-4.02,6.90 L1.07,6.90 L4.29,-6.90 L-0.67,-6.90 Z" fill="url(#pg2)"/><path transform="translate(1867.00,847.99) rotate(-90.00)" d="M-4.02,6.90 L1.07,6.90 L4.29,-6.90 L-0.67,-6.90 Z" fill="url(#pg2)"/><path transform="translate(1867.00,834.58) rotate(-90.00)" d="M-4.02,6.90 L1.07,6.90 L4.29,-6.90 L-0.67,-6.90 Z" fill="url(#pg2)"/><path transform="translate(1867.00,908.07) rotate(-90.00)" d="M-5.63,-6.90 L1.74,-6.90 L5.77,6.90 L-1.61,6.90 Z" fill="url(#og2)"/><path transform="translate(1867.00,894.66) rotate(-90.00)" d="M-5.63,-6.90 L1.74,-6.90 L5.77,6.90 L-1.61,6.90 Z" fill="url(#og2)"/><path transform="translate(1867.00,881.25) rotate(-90.00)" d="M-5.63,-6.90 L1.74,-6.90 L5.77,6.90 L-1.61,6.90 Z" fill="url(#og2)"/><path transform="translate(1867.00,867.83) rotate(-90.00)" d="M-5.63,-6.90 L1.74,-6.90 L5.77,6.90 L-1.61,6.90 Z" fill="url(#og2)"/><path transform="translate(1867.00,854.42) rotate(-90.00)" d="M-5.63,-6.90 L1.74,-6.90 L5.77,6.90 L-1.61,6.90 Z" fill="url(#og2)"/><path transform="translate(1867.00,841.01) rotate(-90.00)" d="M-5.63,-6.90 L1.74,-6.90 L5.77,6.90 L-1.61,6.90 Z" fill="url(#og2)"/>
<path d="M1382.2,752.6 C1382.6,753.1 1384.6,753.8 1384.4,755.5 C1384.2,757.2 1382.2,760.7 1381.2,763 C1380.2,765.3 1380.5,766.4 1378.5,769.3 C1376.5,772.2 1369.7,777 1369.2,780.4 C1368.7,783.8 1374.9,785.4 1375.7,789.6 C1376.5,793.8 1372.3,801.8 1373.8,805.4 C1375.3,809 1382.7,810.1 1384.5,811" fill="none" stroke="#dc2a86" stroke-width="2.8" stroke-linecap="round"/>
<path d="M1469,782.2 C1469.9,781.8 1473.4,781 1474.5,779.5 C1475.6,778 1476.2,775.2 1475.4,773 C1474.6,770.8 1470.1,768 1469.5,766 C1468.9,764 1470.2,762.1 1472,761 C1473.8,759.9 1475.9,759.9 1480,759.6 C1484.1,759.3 1493.2,759.9 1496.6,759 C1500,758.1 1499.8,756.3 1500.3,754.5 C1500.8,752.7 1500.2,750.2 1499.4,748.1 C1498.6,746 1495.6,743.4 1495.2,741.6 C1494.8,739.8 1495.8,738.1 1497,737.3 C1498.2,736.5 1501.3,737 1502.2,737" fill="none" stroke="#dc2a86" stroke-width="2.8" stroke-linecap="round"/>
<path d="M1604,883.5 C1601.6,882.7 1592.4,881.6 1589.4,878.5 C1586.4,875.4 1585.7,868.9 1585.9,864.6 C1586.1,860.3 1588.3,856.8 1590.6,852.9 C1592.9,849 1597.8,845.1 1599.9,841.2 C1602,837.3 1603.6,831.9 1603.4,829.6 C1603.2,827.3 1599.5,827.7 1598.7,827.3" fill="none" stroke="#dc2a86" stroke-width="2.8" stroke-linecap="round"/>
<path d="M1640,820 C1641.4,816.9 1645.5,805.6 1648.2,801.6 C1650.9,797.6 1652.2,796.9 1656.3,796.2 C1660.4,795.5 1667.7,798.4 1672.7,797.5 C1677.7,796.6 1683.4,793.9 1686.3,790.7 C1689.2,787.5 1691.2,782.4 1690.3,778.5 C1689.4,774.6 1684.2,771 1680.8,767.6 C1677.4,764.2 1671.7,759.7 1669.9,758.1" fill="none" stroke="#dc2a86" stroke-width="2.8" stroke-linecap="round"/>
<path d="M1866,829 C1865.8,826.7 1862.7,818.4 1864.5,815.2 C1866.3,812 1871,811.1 1876.7,809.8 C1882.4,808.4 1893,808.9 1898.5,807.1 C1904,805.3 1906.5,803.4 1909.4,798.9 C1912.4,794.4 1916.2,784 1916.2,779.9 C1916.2,775.8 1912.1,775.5 1909.4,774.4 C1906.7,773.3 1901.5,773.3 1899.9,773.1" fill="none" stroke="#dc2a86" stroke-width="2.8" stroke-linecap="round"/>
<path d="M1866,913 C1863.2,915.3 1850.9,923.1 1849.5,926.8 C1848.1,930.5 1852.7,932.5 1857.7,935 C1862.7,937.5 1874.3,939.5 1879.5,941.8 C1884.7,944.1 1888.1,946.1 1889,948.6 C1889.9,951.1 1887.2,954.2 1884.9,956.7 C1882.6,959.2 1875.4,961.9 1875.4,963.5 C1875.4,965.1 1883.3,965.8 1884.9,966.3" fill="none" stroke="#dc2a86" stroke-width="2.8" stroke-linecap="round"/>
<line x1="1424.2" y1="873" x2="1470" y2="873" stroke="#000" stroke-width="3.2"/><path d="M1484.6,873 L1458.9,859.6 L1465.6,873 L1458.9,886.4Z" fill="#000"/>
<line x1="1674" y1="876.5" x2="1720" y2="876.5" stroke="#000" stroke-width="3.2"/><path d="M1733.9,876.5 L1709.4,862.9 L1716,876.5 L1709.4,890.9Z" fill="#000"/>
<circle cx="1809.2" cy="297.5" r="23.7" fill="#fff" stroke="#5a5a5a" stroke-width="4.4"/>
<text x="1809.2" y="310.2" font-size="33" text-anchor="middle" font-family="'Liberation Sans', sans-serif">3</text>
<circle cx="1257.4" cy="570.9" r="23.7" fill="#fff" stroke="#5a5a5a" stroke-width="4.4"/>
<text x="1257.4" y="579.6" font-size="33" text-anchor="middle" font-family="'Liberation Sans', sans-serif">1</text>
<circle cx="1621.2" cy="450.8" r="23.7" fill="#fff" stroke="#5a5a5a" stroke-width="4.4"/>
<text x="1621.2" y="462.8" font-size="33" text-anchor="middle" font-family="'Liberation Sans', sans-serif">2</text>
<circle cx="1342.2" cy="965.5" r="23.7" fill="#fff" stroke="#5a5a5a" stroke-width="4.4"/>
<text x="1342.2" y="978.2" font-size="33" text-anchor="middle" font-family="'Liberation Sans', sans-serif">1</text>
<circle cx="1599.8" cy="965.3" r="23.7" fill="#fff" stroke="#5a5a5a" stroke-width="4.4"/>
<text x="1599.8" y="978.0" font-size="33" text-anchor="middle" font-family="'Liberation Sans', sans-serif">2</text>
<circle cx="1833.1" cy="965.3" r="23.7" fill="#fff" stroke="#5a5a5a" stroke-width="4.4"/>
<text x="1833.1" y="978.0" font-size="33" text-anchor="middle" font-family="'Liberation Sans', sans-serif">3</text>
<g font-family="'Liberation Sans', sans-serif" fill="#000"><text x="1144.1" y="34.6" font-size="48.5">e</text><text x="1731.3" y="57.0" font-size="28">Pf3-YidC</text><text x="1731.6" y="90.8" font-size="28">dissociation</text><text x="1748.4" y="348.9" font-size="28">t ≤ 52 ms</text><text x="1747.5" y="388.7" font-size="28">Inserted Pf3</text><text x="1230.1" y="407.8" font-size="28">t ≤ 2 ms</text><text x="1229.1" y="449.3" font-size="28">Initial</text><text x="1229.9" y="483.2" font-size="28">binding to</text><text x="1230.3" y="517.0" font-size="28">CH1/CH2</text><text x="1555.9" y="504.0" font-size="28">Membrane insertion</text><text x="1555.9" y="537.6" font-size="28">through</text><text x="1555.9" y="571.3" font-size="28">the hydrophilic groove</text><text x="1555.9" y="604.7" font-size="28">assisted by CH1/CH2</text><text x="1912.6" y="179.5" font-size="28">Free</text><text x="1912.5" y="213.4" font-size="28">energy</text><text x="1528.4" y="1027.8" font-size="28">Time</text><text x="1215.4" y="972.7" font-size="28" fill="#7661ef">YidC</text><text x="1486.8" y="792.3" font-size="28" fill="#dc2a86">Pf3</text><text x="1442.3" y="157.9" font-size="28"><tspan font-style="italic">x</tspan><tspan font-size="16" dy="9.5">β</tspan><tspan dy="-9.5"> = 0.81 nm</tspan></text><text x="1440.7" y="191.6" font-size="28"><tspan font-style="italic">k</tspan><tspan font-size="16" dy="9.5">0</tspan><tspan dy="-9.5"> = 2.0 s</tspan><tspan font-size="15.5" dy="-10.5">-1</tspan></text><text x="1414.1" y="679.3" font-size="28"><tspan font-style="italic">x</tspan><tspan font-size="16" dy="9.5">β</tspan><tspan dy="-9.5"> = 2.0 nm</tspan></text><text x="1413.0" y="713.5" font-size="28"><tspan font-style="italic">k</tspan><tspan font-size="16" dy="9.5">0</tspan><tspan dy="-9.5"> = 0.03 s</tspan><tspan font-size="15.5" dy="-10.5">-1</tspan></text><text x="1160.9" y="512.3" font-size="28"><tspan font-style="italic">k</tspan><tspan font-size="16" dy="9.5">0</tspan></text></g>
</svg></body></html>
